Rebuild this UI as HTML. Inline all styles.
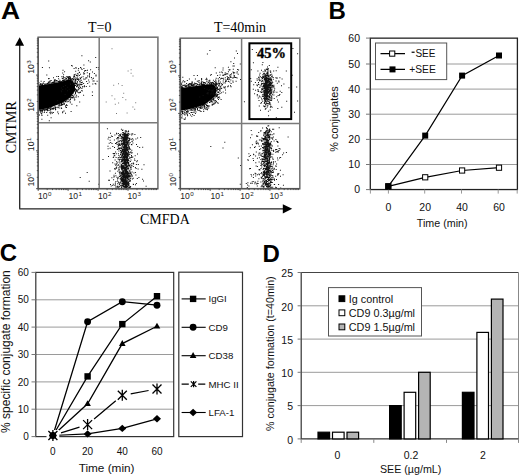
<!DOCTYPE html>
<html><head><meta charset="utf-8"><style>
html,body{margin:0;padding:0;background:#fff;width:520px;height:476px;overflow:hidden}
svg{display:block}
</style></head><body>
<svg width="520" height="476" viewBox="0 0 520 476">
<rect width="520" height="476" fill="#fff"/>
<g id="A">
<text transform="translate(0.9 18.8) scale(1.1 1)" font-family='"Liberation Sans", sans-serif' font-weight="bold" font-size="24">A</text>
<path d="M19.7 208.7V44" stroke="#222" stroke-width="1.3" fill="none"/>
<path d="M15.1 45.8L19.7 37.2L24.1 45.8Z" fill="#000"/>
<path d="M19.2 208.8H284" stroke="#222" stroke-width="1.3" fill="none"/>
<path d="M282.8 204.2L292.2 208.8L282.8 213.4Z" fill="#000"/>
<text x="140" y="223.8" font-family='"Liberation Serif", serif' font-size="14">CMFDA</text>
<text transform="translate(16.4 127.3) rotate(-90)" text-anchor="middle" font-family='"Liberation Serif", serif' font-size="14">CMTMR</text>
<text x="99.7" y="32.3" text-anchor="middle" font-family='"Liberation Serif", serif' font-size="14">T=0</text>
<text x="240" y="32.3" text-anchor="middle" font-family='"Liberation Serif", serif' font-size="14">T=40min</text>
<clipPath id="ul0"><rect x="38.2" y="37.2" width="61.0" height="85.6"/></clipPath>
<clipPath id="pl0"><rect x="38.2" y="37.2" width="119.7" height="151.5"/></clipPath>
<g clip-path="url(#ul0)"><polygon points="38.2,85.4 49.0,84.0 62.0,81.5 68.5,79.5 72.5,80.5 75.0,85.0 75.0,91.0 70.0,97.8 62.0,103.0 49.0,108.0 38.2,110.0 36.0,110.0 36.0,85.4" fill="#000"/>
<path d="M54.8 80.5h1v1h-1zM63.7 103.9h1v1h-1zM49.9 111.4h1v1h-1zM48.6 78.1h1v1h-1zM61.0 102.9h1v1h-1zM63.5 77.0h1v1h-1zM56.5 106.8h1v1h-1zM75.0 91.3h1v1h-1zM41.7 83.7h1v1h-1zM68.2 77.7h1v1h-1zM46.7 108.4h1v1h-1zM43.1 109.6h1v1h-1zM63.6 77.2h1v1h-1zM59.9 80.8h1v1h-1zM49.6 109.5h1v1h-1zM42.0 109.4h1v1h-1zM52.5 108.9h1v1h-1zM68.6 77.7h1v1h-1zM54.7 79.8h1v1h-1zM50.1 109.0h1v1h-1zM71.4 95.0h1v1h-1zM51.8 82.6h1v1h-1zM71.4 103.8h1v1h-1zM51.8 112.8h1v1h-1zM39.1 109.7h1v1h-1zM58.5 104.8h1v1h-1zM54.4 82.3h1v1h-1zM75.6 96.3h1v1h-1zM52.9 111.9h1v1h-1zM65.2 78.8h1v1h-1zM44.0 109.2h1v1h-1zM78.8 88.3h1v1h-1zM71.4 79.2h1v1h-1zM52.6 82.2h1v1h-1zM48.1 82.6h1v1h-1zM76.0 78.6h1v1h-1zM54.5 79.1h1v1h-1zM49.1 81.5h1v1h-1zM59.3 79.8h1v1h-1zM64.7 101.3h1v1h-1zM54.5 106.6h1v1h-1zM74.0 97.5h1v1h-1zM42.0 110.0h1v1h-1zM46.5 108.8h1v1h-1zM72.0 97.1h1v1h-1zM49.5 112.0h1v1h-1zM80.8 83.9h1v1h-1zM70.6 111.0h1v1h-1zM68.7 76.2h1v1h-1zM39.2 109.3h1v1h-1zM42.0 83.5h1v1h-1zM39.2 109.8h1v1h-1zM74.7 88.1h1v1h-1zM55.2 108.8h1v1h-1zM63.8 103.1h1v1h-1zM50.6 117.3h1v1h-1zM52.0 108.1h1v1h-1zM62.2 72.5h1v1h-1zM59.4 103.7h1v1h-1zM54.2 106.5h1v1h-1zM77.9 86.7h1v1h-1zM62.8 77.8h1v1h-1zM75.1 91.4h1v1h-1zM41.6 114.7h1v1h-1zM55.0 109.2h1v1h-1zM59.3 81.1h1v1h-1zM69.7 79.2h1v1h-1zM38.3 81.9h1v1h-1zM74.5 83.8h1v1h-1zM41.5 109.1h1v1h-1zM43.1 82.7h1v1h-1zM44.2 109.2h1v1h-1zM83.2 78.5h1v1h-1zM83.1 82.9h1v1h-1zM41.4 111.2h1v1h-1zM76.2 89.8h1v1h-1zM41.4 118.8h1v1h-1zM46.9 83.3h1v1h-1zM57.7 107.2h1v1h-1zM77.7 73.4h1v1h-1zM73.8 74.1h1v1h-1zM75.3 80.1h1v1h-1zM44.5 108.4h1v1h-1zM41.9 84.1h1v1h-1zM53.0 77.2h1v1h-1zM49.4 112.2h1v1h-1zM79.6 82.4h1v1h-1zM61.2 103.0h1v1h-1zM66.0 107.0h1v1h-1zM42.9 109.1h1v1h-1zM68.1 78.4h1v1h-1zM61.9 80.3h1v1h-1zM40.4 112.6h1v1h-1zM76.3 105.2h1v1h-1zM72.1 95.2h1v1h-1zM59.2 104.2h1v1h-1zM63.6 78.9h1v1h-1zM69.6 100.7h1v1h-1zM76.3 90.2h1v1h-1zM65.1 77.6h1v1h-1zM57.2 80.6h1v1h-1zM77.6 78.4h1v1h-1zM49.0 81.6h1v1h-1zM61.5 104.0h1v1h-1zM55.8 81.5h1v1h-1zM42.8 82.6h1v1h-1zM39.7 110.5h1v1h-1zM46.8 109.3h1v1h-1zM50.2 82.4h1v1h-1zM67.6 78.9h1v1h-1zM54.6 82.2h1v1h-1zM41.7 83.6h1v1h-1zM74.6 78.6h1v1h-1zM47.2 109.3h1v1h-1zM65.1 106.5h1v1h-1zM40.6 110.1h1v1h-1zM48.1 78.0h1v1h-1zM79.3 85.7h1v1h-1zM66.0 104.3h1v1h-1zM54.8 107.5h1v1h-1zM40.4 110.2h1v1h-1zM40.2 82.9h1v1h-1zM72.4 97.4h1v1h-1zM56.0 80.1h1v1h-1zM53.6 81.1h1v1h-1zM76.0 86.3h1v1h-1zM65.1 105.2h1v1h-1zM62.1 112.3h1v1h-1zM64.3 79.8h1v1h-1zM62.3 111.3h1v1h-1zM41.7 110.2h1v1h-1zM81.7 90.4h1v1h-1zM72.7 79.1h1v1h-1zM73.3 95.4h1v1h-1zM42.0 111.6h1v1h-1zM50.2 113.2h1v1h-1zM44.0 110.4h1v1h-1zM51.3 106.4h1v1h-1zM51.5 107.9h1v1h-1zM39.7 109.6h1v1h-1zM55.2 107.1h1v1h-1zM44.8 108.7h1v1h-1zM68.7 78.1h1v1h-1zM46.2 108.2h1v1h-1zM39.3 84.2h1v1h-1zM61.3 76.3h1v1h-1zM69.9 79.0h1v1h-1zM49.8 109.4h1v1h-1zM66.0 77.9h1v1h-1zM44.4 84.0h1v1h-1zM40.2 109.4h1v1h-1zM39.5 109.6h1v1h-1zM49.4 80.5h1v1h-1zM60.9 81.1h1v1h-1zM75.0 85.0h1v1h-1zM70.9 78.7h1v1h-1zM47.5 83.0h1v1h-1zM67.6 76.4h1v1h-1zM70.6 96.7h1v1h-1zM73.2 79.6h1v1h-1zM48.6 107.9h1v1h-1zM42.8 108.8h1v1h-1zM75.1 83.0h1v1h-1zM52.7 82.5h1v1h-1zM60.4 104.9h1v1h-1zM75.5 89.5h1v1h-1zM76.0 83.4h1v1h-1zM49.8 107.1h1v1h-1zM75.7 83.0h1v1h-1zM65.7 101.2h1v1h-1zM69.9 76.9h1v1h-1zM41.2 83.8h1v1h-1zM63.4 103.2h1v1h-1zM75.0 93.0h1v1h-1zM49.7 108.2h1v1h-1zM70.1 97.7h1v1h-1zM54.6 106.8h1v1h-1zM77.1 75.2h1v1h-1zM53.0 107.5h1v1h-1zM76.4 90.7h1v1h-1zM78.2 78.5h1v1h-1zM78.1 87.2h1v1h-1zM76.6 90.3h1v1h-1zM57.9 80.9h1v1h-1zM68.7 76.1h1v1h-1zM67.2 101.2h1v1h-1zM47.6 107.7h1v1h-1zM61.8 78.0h1v1h-1zM76.3 85.5h1v1h-1zM70.8 96.5h1v1h-1zM64.1 71.3h1v1h-1zM45.9 109.0h1v1h-1zM63.5 80.0h1v1h-1zM75.5 96.7h1v1h-1zM39.7 111.5h1v1h-1zM67.3 76.1h1v1h-1zM75.2 70.8h1v1h-1zM66.2 104.7h1v1h-1zM74.6 80.2h1v1h-1zM78.1 92.2h1v1h-1zM60.9 103.9h1v1h-1zM79.2 101.6h1v1h-1zM39.0 114.5h1v1h-1zM77.8 88.7h1v1h-1zM75.4 90.0h1v1h-1zM56.9 80.4h1v1h-1zM72.8 96.4h1v1h-1zM46.4 109.8h1v1h-1zM47.0 110.3h1v1h-1zM55.0 106.9h1v1h-1zM77.1 91.6h1v1h-1zM73.9 82.9h1v1h-1zM47.1 107.9h1v1h-1zM62.8 76.0h1v1h-1zM58.3 81.1h1v1h-1zM53.5 107.9h1v1h-1zM53.6 82.3h1v1h-1zM57.8 104.6h1v1h-1zM72.8 78.9h1v1h-1zM77.2 85.5h1v1h-1zM62.7 77.6h1v1h-1zM76.2 82.8h1v1h-1zM78.9 74.9h1v1h-1zM74.7 89.1h1v1h-1zM40.0 109.3h1v1h-1zM61.4 104.7h1v1h-1zM48.8 120.3h1v1h-1zM51.6 82.5h1v1h-1zM64.7 100.4h1v1h-1zM63.5 110.5h1v1h-1zM74.0 82.7h1v1h-1zM58.4 81.4h1v1h-1zM62.5 102.3h1v1h-1zM80.9 82.0h1v1h-1zM76.9 79.1h1v1h-1zM47.9 81.6h1v1h-1zM74.8 82.1h1v1h-1zM69.5 78.1h1v1h-1zM76.3 86.3h1v1h-1zM65.0 112.8h1v1h-1zM51.1 82.7h1v1h-1zM76.6 75.2h1v1h-1zM66.1 79.6h1v1h-1zM75.3 91.3h1v1h-1zM74.4 94.3h1v1h-1zM53.8 79.8h1v1h-1zM70.3 77.9h1v1h-1zM46.7 108.7h1v1h-1zM40.7 83.7h1v1h-1zM74.6 80.8h1v1h-1zM79.6 81.3h1v1h-1zM43.6 81.1h1v1h-1zM46.2 112.1h1v1h-1zM46.6 83.1h1v1h-1zM78.9 92.2h1v1h-1zM61.1 108.0h1v1h-1zM69.1 99.6h1v1h-1zM62.3 79.8h1v1h-1zM71.8 94.9h1v1h-1zM52.5 81.7h1v1h-1zM49.9 107.4h1v1h-1zM68.4 77.6h1v1h-1zM72.5 93.3h1v1h-1zM62.2 80.7h1v1h-1zM48.9 67.3h1v1h-1zM63.4 101.4h1v1h-1zM47.2 114.7h1v1h-1zM57.1 111.5h1v1h-1zM44.3 84.0h1v1h-1zM65.9 76.2h1v1h-1zM74.2 83.7h1v1h-1zM51.3 106.8h1v1h-1zM58.0 75.9h1v1h-1zM66.1 99.8h1v1h-1zM54.0 80.7h1v1h-1zM57.8 106.4h1v1h-1zM54.9 108.6h1v1h-1zM59.3 107.6h1v1h-1zM68.5 76.9h1v1h-1zM41.0 114.5h1v1h-1zM58.7 81.4h1v1h-1zM73.1 76.3h1v1h-1zM44.5 110.0h1v1h-1zM62.5 69.7h1v1h-1zM73.4 78.4h1v1h-1zM51.1 108.5h1v1h-1zM45.7 108.9h1v1h-1zM67.6 99.1h1v1h-1zM53.6 81.3h1v1h-1zM65.0 101.1h1v1h-1zM45.7 83.7h1v1h-1zM54.7 106.3h1v1h-1zM73.5 77.2h1v1h-1zM69.0 78.1h1v1h-1zM50.1 109.6h1v1h-1zM69.6 76.3h1v1h-1zM40.1 83.9h1v1h-1zM73.4 81.5h1v1h-1zM84.5 78.8h1v1h-1zM75.6 89.1h1v1h-1zM48.2 78.3h1v1h-1zM78.9 84.4h1v1h-1zM75.4 91.3h1v1h-1zM57.3 111.4h1v1h-1zM62.8 79.9h1v1h-1zM75.0 79.0h1v1h-1zM50.7 80.0h1v1h-1zM66.6 104.9h1v1h-1zM73.9 99.4h1v1h-1zM47.4 82.8h1v1h-1zM50.0 80.5h1v1h-1zM59.2 105.5h1v1h-1zM41.2 112.9h1v1h-1zM75.0 92.6h1v1h-1zM39.5 109.8h1v1h-1zM40.6 80.7h1v1h-1zM47.0 83.5h1v1h-1zM70.8 78.5h1v1h-1zM71.2 97.2h1v1h-1zM67.8 77.6h1v1h-1zM80.1 87.0h1v1h-1zM38.4 82.4h1v1h-1zM67.9 100.7h1v1h-1zM52.6 108.2h1v1h-1zM47.3 109.0h1v1h-1zM44.6 108.3h1v1h-1zM48.1 82.3h1v1h-1zM77.1 84.7h1v1h-1zM74.7 82.6h1v1h-1zM40.9 109.7h1v1h-1zM57.9 113.3h1v1h-1zM66.4 99.4h1v1h-1zM44.7 83.6h1v1h-1zM68.4 78.8h1v1h-1zM62.3 103.9h1v1h-1zM76.1 94.8h1v1h-1zM61.0 107.6h1v1h-1zM77.8 96.2h1v1h-1zM43.8 112.1h1v1h-1zM75.3 73.8h1v1h-1zM69.5 97.3h1v1h-1zM48.8 82.7h1v1h-1zM69.8 102.3h1v1h-1zM79.8 91.6h1v1h-1zM51.3 111.8h1v1h-1zM44.3 83.6h1v1h-1zM68.8 78.4h1v1h-1zM58.1 78.3h1v1h-1zM70.0 98.9h1v1h-1zM48.4 109.9h1v1h-1zM72.6 97.0h1v1h-1zM67.2 76.9h1v1h-1zM51.6 81.9h1v1h-1zM65.0 85.1h1v1h-1zM70.8 80.5h1v1h-1zM72.8 84.7h1v1h-1zM76.8 81.0h1v1h-1zM83.9 86.2h1v1h-1zM97.8 66.9h1v1h-1zM78.3 79.2h1v1h-1zM90.9 77.1h1v1h-1zM80.1 78.0h1v1h-1zM88.7 81.4h1v1h-1zM77.4 84.5h1v1h-1zM60.9 87.4h1v1h-1zM78.1 68.1h1v1h-1zM67.0 90.3h1v1h-1zM60.7 90.2h1v1h-1zM72.1 83.2h1v1h-1zM87.2 83.0h1v1h-1zM95.5 74.6h1v1h-1zM78.8 71.8h1v1h-1zM87.0 69.8h1v1h-1zM93.6 80.4h1v1h-1zM74.3 99.3h1v1h-1zM82.1 86.4h1v1h-1zM95.2 83.4h1v1h-1zM96.6 80.7h1v1h-1zM84.5 70.0h1v1h-1zM80.7 84.3h1v1h-1zM89.0 74.3h1v1h-1zM68.7 77.3h1v1h-1zM91.9 94.9h1v1h-1zM77.0 77.6h1v1h-1zM88.1 79.6h1v1h-1zM73.6 68.0h1v1h-1zM71.4 80.4h1v1h-1zM83.2 72.2h1v1h-1zM73.7 75.1h1v1h-1zM83.1 94.7h1v1h-1zM89.0 76.5h1v1h-1zM67.8 78.3h1v1h-1zM89.1 73.0h1v1h-1zM86.4 77.3h1v1h-1zM71.8 65.5h1v1h-1zM94.7 83.1h1v1h-1zM80.0 78.1h1v1h-1zM81.0 76.8h1v1h-1zM62.2 89.1h1v1h-1zM83.9 85.2h1v1h-1zM70.0 84.0h1v1h-1zM81.9 81.8h1v1h-1zM81.5 69.0h1v1h-1zM88.1 60.2h1v1h-1zM95.5 75.6h1v1h-1zM77.1 73.2h1v1h-1zM83.2 73.6h1v1h-1zM81.4 55.3h1v1h-1zM71.1 65.0h1v1h-1zM79.6 77.3h1v1h-1zM83.4 68.1h1v1h-1zM63.1 74.2h1v1h-1zM76.6 83.2h1v1h-1zM74.1 75.9h1v1h-1zM80.1 83.9h1v1h-1zM75.4 67.1h1v1h-1zM72.1 77.9h1v1h-1zM57.1 100.2h1v1h-1zM79.0 71.9h1v1h-1zM85.6 77.4h1v1h-1zM76.7 84.2h1v1h-1zM75.4 77.2h1v1h-1zM83.4 64.6h1v1h-1zM98.1 68.8h1v1h-1zM77.7 84.4h1v1h-1zM69.9 83.2h1v1h-1zM77.9 79.7h1v1h-1zM91.7 78.6h1v1h-1zM81.4 87.9h1v1h-1zM79.6 79.4h1v1h-1zM84.1 70.7h1v1h-1zM65.3 88.5h1v1h-1zM86.8 72.3h1v1h-1zM92.5 80.4h1v1h-1zM76.9 81.7h1v1h-1zM81.2 83.8h1v1h-1zM85.2 77.4h1v1h-1zM93.9 72.9h1v1h-1zM79.9 73.7h1v1h-1zM85.8 86.1h1v1h-1zM87.0 75.6h1v1h-1zM75.9 75.1h1v1h-1zM77.5 89.5h1v1h-1zM80.8 79.8h1v1h-1zM90.1 69.2h1v1h-1zM81.3 90.1h1v1h-1zM80.0 67.1h1v1h-1zM77.3 75.4h1v1h-1zM74.9 81.4h1v1h-1zM62.9 85.9h1v1h-1zM95.9 66.9h1v1h-1zM79.6 87.6h1v1h-1zM67.2 86.8h1v1h-1zM92.0 71.4h1v1h-1zM82.6 76.2h1v1h-1zM86.1 81.0h1v1h-1zM79.3 81.1h1v1h-1zM75.6 67.8h1v1h-1zM95.4 83.4h1v1h-1zM88.7 75.5h1v1h-1zM78.5 83.7h1v1h-1zM79.9 91.9h1v1h-1zM71.9 80.4h1v1h-1zM81.6 83.7h1v1h-1zM82.3 86.1h1v1h-1zM89.2 85.8h1v1h-1zM68.7 88.7h1v1h-1zM92.3 83.4h1v1h-1zM61.1 91.3h1v1h-1zM64.6 94.1h1v1h-1zM76.9 84.7h1v1h-1zM93.0 77.7h1v1h-1zM81.2 84.0h1v1h-1zM84.1 73.3h1v1h-1zM85.4 69.9h1v1h-1zM80.8 67.8h1v1h-1zM91.9 91.5h1v1h-1zM77.8 69.7h1v1h-1zM48.2 60.6h1v1h-1zM95.2 56.9h1v1h-1zM46.3 74.6h1v1h-1zM89.8 61.6h1v1h-1zM56.3 75.9h1v1h-1zM41.9 67.1h1v1h-1z" fill="#111"/></g>
<path d="M124.7 184.7h1v1h-1zM112.2 162.2h1v1h-1zM127.6 174.5h1v1h-1zM124.2 153.7h1v1h-1zM124.5 178.1h1v1h-1zM134.4 133.9h1v1h-1zM111.4 177.2h1v1h-1zM124.2 184.0h1v1h-1zM121.9 130.0h1v1h-1zM127.0 172.9h1v1h-1zM131.0 143.9h1v1h-1zM123.3 138.0h1v1h-1zM125.1 149.2h1v1h-1zM124.1 145.9h1v1h-1zM121.1 176.9h1v1h-1zM127.0 186.6h1v1h-1zM125.1 137.6h1v1h-1zM125.4 163.4h1v1h-1zM124.1 176.4h1v1h-1zM123.5 133.1h1v1h-1zM123.8 162.7h1v1h-1zM124.9 184.4h1v1h-1zM127.5 166.4h1v1h-1zM121.6 167.4h1v1h-1zM128.4 184.7h1v1h-1zM124.1 139.8h1v1h-1zM124.6 144.3h1v1h-1zM118.0 143.5h1v1h-1zM124.3 136.7h1v1h-1zM124.7 142.8h1v1h-1zM123.8 168.6h1v1h-1zM122.7 156.0h1v1h-1zM135.0 184.2h1v1h-1zM127.8 163.9h1v1h-1zM124.6 176.8h1v1h-1zM123.3 141.2h1v1h-1zM131.2 134.4h1v1h-1zM110.7 185.6h1v1h-1zM125.1 168.6h1v1h-1zM126.0 187.3h1v1h-1zM125.0 137.9h1v1h-1zM125.6 165.1h1v1h-1zM127.1 172.2h1v1h-1zM132.1 138.3h1v1h-1zM118.4 150.5h1v1h-1zM124.0 161.9h1v1h-1zM122.0 175.9h1v1h-1zM127.3 159.8h1v1h-1zM126.1 185.5h1v1h-1zM131.9 178.5h1v1h-1zM117.9 158.7h1v1h-1zM121.5 136.5h1v1h-1zM126.3 160.0h1v1h-1zM129.4 178.7h1v1h-1zM123.9 147.4h1v1h-1zM125.7 169.6h1v1h-1zM113.8 176.3h1v1h-1zM126.3 147.9h1v1h-1zM122.6 183.8h1v1h-1zM126.9 155.8h1v1h-1zM125.6 156.9h1v1h-1zM120.9 147.9h1v1h-1zM121.2 146.4h1v1h-1zM126.3 159.0h1v1h-1zM128.7 173.6h1v1h-1zM125.1 162.8h1v1h-1zM122.7 165.7h1v1h-1zM126.2 146.3h1v1h-1zM131.0 154.9h1v1h-1zM120.4 179.1h1v1h-1zM124.7 148.7h1v1h-1zM127.5 162.9h1v1h-1zM123.6 155.4h1v1h-1zM122.5 143.6h1v1h-1zM119.5 171.0h1v1h-1zM125.5 174.6h1v1h-1zM126.3 136.6h1v1h-1zM125.4 176.9h1v1h-1zM125.8 151.5h1v1h-1zM117.9 153.3h1v1h-1zM124.4 155.3h1v1h-1zM123.3 150.4h1v1h-1zM114.4 134.5h1v1h-1zM122.1 179.5h1v1h-1zM124.5 166.5h1v1h-1zM121.0 186.4h1v1h-1zM121.6 174.3h1v1h-1zM128.4 152.5h1v1h-1zM132.8 183.7h1v1h-1zM123.0 133.5h1v1h-1zM124.5 178.5h1v1h-1zM131.4 144.3h1v1h-1zM124.9 135.0h1v1h-1zM123.5 180.3h1v1h-1zM122.3 168.1h1v1h-1zM120.9 136.1h1v1h-1zM121.9 165.3h1v1h-1zM123.2 184.6h1v1h-1zM124.9 184.7h1v1h-1zM121.9 148.7h1v1h-1zM121.9 166.1h1v1h-1zM125.6 175.6h1v1h-1zM124.3 174.1h1v1h-1zM120.4 165.8h1v1h-1zM122.5 134.8h1v1h-1zM124.7 184.4h1v1h-1zM123.2 150.9h1v1h-1zM113.9 139.6h1v1h-1zM122.5 159.3h1v1h-1zM124.2 144.4h1v1h-1zM125.9 174.3h1v1h-1zM124.8 164.3h1v1h-1zM123.6 180.0h1v1h-1zM131.6 171.4h1v1h-1zM122.9 182.2h1v1h-1zM125.4 155.8h1v1h-1zM124.5 144.9h1v1h-1zM126.9 158.2h1v1h-1zM120.0 153.8h1v1h-1zM129.6 186.4h1v1h-1zM127.2 185.6h1v1h-1zM126.6 168.0h1v1h-1zM124.4 175.7h1v1h-1zM122.5 180.0h1v1h-1zM124.1 133.5h1v1h-1zM127.4 168.2h1v1h-1zM128.5 143.4h1v1h-1zM124.5 133.1h1v1h-1zM127.3 174.0h1v1h-1zM121.9 143.6h1v1h-1zM123.5 158.7h1v1h-1zM122.2 139.7h1v1h-1zM120.3 157.0h1v1h-1zM122.1 169.8h1v1h-1zM122.4 135.2h1v1h-1zM130.8 173.7h1v1h-1zM126.1 167.4h1v1h-1zM136.2 161.2h1v1h-1zM121.1 150.6h1v1h-1zM125.4 159.3h1v1h-1zM125.2 155.8h1v1h-1zM132.4 142.5h1v1h-1zM125.8 136.6h1v1h-1zM124.2 159.6h1v1h-1zM122.5 178.7h1v1h-1zM125.7 152.6h1v1h-1zM128.1 184.6h1v1h-1zM126.7 138.7h1v1h-1zM126.0 167.6h1v1h-1zM123.6 142.2h1v1h-1zM117.3 161.8h1v1h-1zM125.1 133.8h1v1h-1zM115.1 151.4h1v1h-1zM128.8 148.3h1v1h-1zM122.9 140.5h1v1h-1zM123.7 169.0h1v1h-1zM125.4 186.1h1v1h-1zM122.0 172.2h1v1h-1zM113.1 179.2h1v1h-1zM121.5 147.3h1v1h-1zM127.0 142.8h1v1h-1zM127.5 153.7h1v1h-1zM123.3 142.7h1v1h-1zM122.6 155.9h1v1h-1zM109.0 179.7h1v1h-1zM121.9 149.8h1v1h-1zM127.1 156.9h1v1h-1zM126.5 153.3h1v1h-1zM138.4 177.1h1v1h-1zM122.6 166.4h1v1h-1zM126.8 142.1h1v1h-1zM132.3 133.6h1v1h-1zM137.6 168.5h1v1h-1zM126.6 166.6h1v1h-1zM123.0 146.5h1v1h-1zM123.2 172.6h1v1h-1zM124.7 154.8h1v1h-1zM114.8 183.7h1v1h-1zM124.9 180.4h1v1h-1zM114.9 172.8h1v1h-1zM122.5 160.4h1v1h-1zM123.9 138.0h1v1h-1zM126.4 167.1h1v1h-1zM125.9 182.1h1v1h-1zM124.2 144.9h1v1h-1zM112.3 184.9h1v1h-1zM125.7 174.2h1v1h-1zM123.9 160.0h1v1h-1zM122.1 134.1h1v1h-1zM131.0 155.6h1v1h-1zM123.0 174.7h1v1h-1zM126.3 180.1h1v1h-1zM121.6 164.6h1v1h-1zM124.2 144.9h1v1h-1zM107.5 145.8h1v1h-1zM132.3 156.4h1v1h-1zM133.1 163.4h1v1h-1zM123.6 147.5h1v1h-1zM122.1 140.5h1v1h-1zM125.8 153.5h1v1h-1zM124.3 136.8h1v1h-1zM130.6 156.9h1v1h-1zM124.5 151.5h1v1h-1zM114.2 168.1h1v1h-1zM125.7 148.6h1v1h-1zM127.0 135.7h1v1h-1zM127.9 167.9h1v1h-1zM124.1 161.5h1v1h-1zM124.1 136.3h1v1h-1zM128.2 145.9h1v1h-1zM126.1 165.9h1v1h-1zM114.3 155.2h1v1h-1zM124.9 152.8h1v1h-1zM124.8 138.6h1v1h-1zM125.2 156.8h1v1h-1zM123.9 154.8h1v1h-1zM142.1 178.8h1v1h-1zM123.5 153.9h1v1h-1zM119.2 165.8h1v1h-1zM125.8 135.4h1v1h-1zM123.5 159.4h1v1h-1zM123.9 142.8h1v1h-1zM125.4 137.5h1v1h-1zM121.3 161.5h1v1h-1zM117.6 145.8h1v1h-1zM127.6 164.0h1v1h-1zM121.4 148.4h1v1h-1zM126.7 165.7h1v1h-1zM123.6 168.2h1v1h-1zM128.2 174.8h1v1h-1zM128.2 152.5h1v1h-1zM125.6 178.5h1v1h-1zM125.1 142.0h1v1h-1zM119.3 148.4h1v1h-1zM123.2 163.3h1v1h-1zM125.6 165.0h1v1h-1zM120.0 181.4h1v1h-1zM112.7 152.9h1v1h-1zM125.1 151.2h1v1h-1zM123.6 154.3h1v1h-1zM122.4 185.4h1v1h-1zM127.0 137.8h1v1h-1zM130.9 152.5h1v1h-1zM115.4 175.2h1v1h-1zM123.3 186.3h1v1h-1zM122.8 161.9h1v1h-1zM127.5 183.1h1v1h-1zM129.1 175.3h1v1h-1zM125.2 167.0h1v1h-1zM137.8 164.0h1v1h-1zM127.2 133.9h1v1h-1zM126.6 146.5h1v1h-1zM114.5 168.8h1v1h-1zM123.2 156.3h1v1h-1zM118.9 183.8h1v1h-1zM124.1 148.3h1v1h-1zM114.9 182.6h1v1h-1zM126.6 168.8h1v1h-1zM122.7 162.5h1v1h-1zM126.8 153.7h1v1h-1zM127.4 152.8h1v1h-1zM124.6 159.1h1v1h-1zM126.0 181.9h1v1h-1zM125.8 166.1h1v1h-1zM122.3 184.6h1v1h-1zM125.0 183.6h1v1h-1zM122.5 138.5h1v1h-1zM125.8 184.3h1v1h-1zM120.9 152.0h1v1h-1zM118.3 144.8h1v1h-1zM123.8 175.5h1v1h-1zM124.6 153.0h1v1h-1zM115.8 153.3h1v1h-1zM125.2 156.3h1v1h-1zM124.1 181.3h1v1h-1zM123.3 155.4h1v1h-1zM118.3 168.6h1v1h-1zM125.6 148.1h1v1h-1zM130.3 172.5h1v1h-1zM125.2 159.6h1v1h-1zM125.9 169.8h1v1h-1zM129.0 171.6h1v1h-1zM116.9 149.0h1v1h-1zM123.1 140.4h1v1h-1zM124.1 145.1h1v1h-1zM125.7 137.5h1v1h-1zM123.1 178.9h1v1h-1zM125.4 164.1h1v1h-1zM124.6 153.5h1v1h-1zM126.7 160.4h1v1h-1zM124.0 179.7h1v1h-1zM119.4 162.3h1v1h-1zM125.8 172.8h1v1h-1zM124.8 170.7h1v1h-1zM127.3 175.8h1v1h-1zM124.4 158.2h1v1h-1zM126.6 176.2h1v1h-1zM124.7 161.2h1v1h-1zM124.7 172.5h1v1h-1zM126.7 157.3h1v1h-1zM126.3 182.3h1v1h-1zM132.8 139.6h1v1h-1zM127.0 141.3h1v1h-1zM120.4 159.1h1v1h-1zM120.8 163.7h1v1h-1zM123.5 146.6h1v1h-1zM126.3 166.5h1v1h-1zM121.0 169.2h1v1h-1zM123.0 158.9h1v1h-1zM113.5 153.2h1v1h-1zM126.6 181.6h1v1h-1zM128.3 172.9h1v1h-1zM123.1 131.9h1v1h-1zM127.7 153.8h1v1h-1zM127.7 142.2h1v1h-1zM128.8 170.2h1v1h-1zM119.2 184.2h1v1h-1zM116.1 167.8h1v1h-1zM126.0 152.7h1v1h-1zM111.8 135.9h1v1h-1zM124.3 177.3h1v1h-1zM121.4 153.5h1v1h-1zM117.9 136.9h1v1h-1zM108.1 179.7h1v1h-1zM125.3 151.0h1v1h-1zM120.5 151.4h1v1h-1zM127.0 177.4h1v1h-1zM137.1 137.6h1v1h-1zM122.1 180.9h1v1h-1zM123.5 175.3h1v1h-1zM109.6 147.7h1v1h-1zM126.4 143.8h1v1h-1zM119.7 147.8h1v1h-1zM125.8 174.9h1v1h-1zM117.0 180.4h1v1h-1zM122.1 143.6h1v1h-1zM126.3 135.2h1v1h-1zM126.2 137.0h1v1h-1zM124.9 160.8h1v1h-1zM121.5 160.2h1v1h-1zM124.2 159.1h1v1h-1zM122.9 178.5h1v1h-1zM122.7 163.2h1v1h-1zM126.7 180.9h1v1h-1zM118.2 164.2h1v1h-1zM129.5 164.2h1v1h-1zM109.6 139.8h1v1h-1zM120.2 135.5h1v1h-1zM130.8 166.6h1v1h-1zM124.6 148.9h1v1h-1zM121.2 164.9h1v1h-1zM129.3 133.8h1v1h-1zM123.9 162.8h1v1h-1zM127.7 164.4h1v1h-1zM125.9 183.8h1v1h-1zM126.5 161.8h1v1h-1zM123.0 159.1h1v1h-1zM121.5 181.5h1v1h-1zM126.5 175.3h1v1h-1zM122.5 183.0h1v1h-1zM127.4 160.0h1v1h-1zM124.9 152.9h1v1h-1zM125.9 163.3h1v1h-1zM126.6 148.4h1v1h-1zM118.5 167.1h1v1h-1zM128.5 149.2h1v1h-1zM124.0 145.3h1v1h-1zM125.7 145.5h1v1h-1zM135.4 174.4h1v1h-1zM117.5 164.8h1v1h-1zM124.0 183.7h1v1h-1zM129.7 187.0h1v1h-1zM124.2 172.4h1v1h-1zM127.1 159.7h1v1h-1zM121.6 172.7h1v1h-1zM134.1 158.5h1v1h-1zM125.6 163.8h1v1h-1zM128.1 133.1h1v1h-1zM123.2 149.9h1v1h-1zM106.9 128.3h1v1h-1zM123.3 157.1h1v1h-1zM116.4 176.7h1v1h-1zM121.7 158.0h1v1h-1zM125.1 149.7h1v1h-1zM120.0 147.4h1v1h-1zM131.5 133.3h1v1h-1zM124.5 140.7h1v1h-1zM126.8 150.3h1v1h-1zM124.2 172.8h1v1h-1zM123.4 150.7h1v1h-1zM125.7 170.3h1v1h-1zM124.3 163.9h1v1h-1zM123.4 168.0h1v1h-1zM124.2 139.0h1v1h-1zM119.1 159.2h1v1h-1zM121.3 178.9h1v1h-1zM123.9 136.6h1v1h-1zM123.2 143.4h1v1h-1zM123.2 149.7h1v1h-1zM134.9 167.0h1v1h-1zM125.1 167.0h1v1h-1zM114.5 163.5h1v1h-1zM119.2 144.2h1v1h-1zM125.8 171.4h1v1h-1zM123.6 167.2h1v1h-1zM114.6 159.5h1v1h-1zM128.9 186.8h1v1h-1zM129.2 157.3h1v1h-1zM122.6 176.0h1v1h-1zM130.0 166.5h1v1h-1zM123.9 182.2h1v1h-1zM126.1 177.1h1v1h-1zM123.4 182.9h1v1h-1zM122.7 184.4h1v1h-1zM128.1 151.3h1v1h-1zM127.3 155.6h1v1h-1zM126.7 173.9h1v1h-1zM125.8 154.1h1v1h-1zM125.5 149.9h1v1h-1zM128.1 182.5h1v1h-1zM118.3 147.5h1v1h-1zM128.6 175.4h1v1h-1zM119.2 143.9h1v1h-1zM127.1 154.6h1v1h-1zM125.1 138.2h1v1h-1zM124.8 130.8h1v1h-1zM124.7 151.5h1v1h-1zM123.2 180.8h1v1h-1zM124.6 170.1h1v1h-1zM124.5 173.1h1v1h-1zM122.5 186.4h1v1h-1zM127.8 154.4h1v1h-1zM112.3 146.0h1v1h-1zM129.1 165.1h1v1h-1zM124.9 146.8h1v1h-1zM121.1 142.8h1v1h-1zM126.4 171.1h1v1h-1zM128.3 167.6h1v1h-1zM122.3 150.9h1v1h-1zM125.4 135.1h1v1h-1zM128.0 140.1h1v1h-1zM125.7 165.0h1v1h-1zM124.5 187.3h1v1h-1zM126.6 137.8h1v1h-1zM126.7 171.4h1v1h-1zM113.1 156.5h1v1h-1zM125.1 137.3h1v1h-1zM123.8 157.9h1v1h-1zM127.5 182.5h1v1h-1zM123.7 159.3h1v1h-1zM125.3 176.0h1v1h-1zM125.0 177.5h1v1h-1zM119.2 173.2h1v1h-1zM123.2 184.8h1v1h-1zM129.6 173.0h1v1h-1zM124.5 169.7h1v1h-1zM119.0 144.2h1v1h-1zM124.2 169.7h1v1h-1zM125.2 137.4h1v1h-1zM127.6 154.7h1v1h-1zM126.7 137.3h1v1h-1zM129.4 173.5h1v1h-1zM121.0 173.0h1v1h-1zM113.3 176.6h1v1h-1zM121.4 183.0h1v1h-1zM123.0 151.9h1v1h-1zM128.0 172.6h1v1h-1zM124.1 173.3h1v1h-1zM122.7 179.8h1v1h-1zM120.4 143.4h1v1h-1zM128.2 163.0h1v1h-1zM122.4 129.6h1v1h-1zM127.3 141.0h1v1h-1zM122.4 180.0h1v1h-1zM128.2 184.0h1v1h-1zM123.7 139.8h1v1h-1zM126.1 175.8h1v1h-1zM124.9 184.8h1v1h-1zM124.7 154.7h1v1h-1zM122.8 153.2h1v1h-1zM121.0 159.6h1v1h-1zM123.5 154.9h1v1h-1zM125.1 146.1h1v1h-1zM125.8 140.4h1v1h-1zM124.9 186.0h1v1h-1zM122.8 149.0h1v1h-1zM124.0 139.6h1v1h-1zM123.3 180.3h1v1h-1zM121.4 180.5h1v1h-1zM124.8 133.0h1v1h-1zM124.5 168.1h1v1h-1zM123.5 138.9h1v1h-1zM126.5 142.9h1v1h-1zM128.5 179.6h1v1h-1zM128.0 168.6h1v1h-1zM126.6 142.0h1v1h-1zM127.4 158.8h1v1h-1zM123.3 174.1h1v1h-1zM123.1 171.8h1v1h-1zM124.5 161.9h1v1h-1zM124.0 178.4h1v1h-1zM122.5 138.4h1v1h-1zM131.3 162.9h1v1h-1zM124.3 176.5h1v1h-1zM128.5 185.5h1v1h-1zM124.0 186.5h1v1h-1zM126.4 175.2h1v1h-1zM129.6 152.1h1v1h-1zM121.7 154.7h1v1h-1zM120.0 154.3h1v1h-1zM127.3 165.0h1v1h-1zM126.8 154.8h1v1h-1zM126.1 141.5h1v1h-1zM128.1 131.3h1v1h-1zM125.4 130.3h1v1h-1zM136.8 178.0h1v1h-1zM120.4 178.7h1v1h-1zM123.4 182.1h1v1h-1zM122.9 178.0h1v1h-1zM123.5 153.0h1v1h-1zM124.0 140.2h1v1h-1zM126.3 138.6h1v1h-1zM123.8 141.0h1v1h-1zM122.6 143.4h1v1h-1zM129.3 153.8h1v1h-1zM120.0 134.6h1v1h-1zM125.3 180.7h1v1h-1zM126.0 185.1h1v1h-1zM128.3 181.1h1v1h-1zM127.2 143.5h1v1h-1zM117.2 183.2h1v1h-1zM120.7 161.0h1v1h-1zM123.8 155.6h1v1h-1zM131.4 175.7h1v1h-1zM117.7 141.1h1v1h-1zM123.7 162.9h1v1h-1zM125.6 145.1h1v1h-1zM126.5 153.6h1v1h-1zM122.9 180.2h1v1h-1zM125.0 136.2h1v1h-1zM127.7 139.7h1v1h-1zM125.2 136.0h1v1h-1zM123.7 149.7h1v1h-1zM120.8 176.8h1v1h-1zM129.3 153.7h1v1h-1zM117.6 139.4h1v1h-1zM124.6 154.7h1v1h-1zM122.5 142.4h1v1h-1zM124.9 172.5h1v1h-1zM124.8 157.2h1v1h-1zM124.2 135.3h1v1h-1zM122.3 152.2h1v1h-1zM131.5 164.7h1v1h-1zM122.6 184.9h1v1h-1zM124.6 173.2h1v1h-1zM125.4 145.3h1v1h-1zM126.5 136.5h1v1h-1zM135.9 183.0h1v1h-1zM128.5 160.6h1v1h-1zM127.2 185.8h1v1h-1zM122.8 146.4h1v1h-1zM124.3 146.0h1v1h-1zM124.8 153.0h1v1h-1zM127.4 178.2h1v1h-1zM125.3 154.5h1v1h-1zM126.2 139.7h1v1h-1zM120.7 185.2h1v1h-1zM121.6 143.6h1v1h-1zM121.1 165.4h1v1h-1zM122.3 181.2h1v1h-1zM121.9 178.0h1v1h-1zM124.6 132.7h1v1h-1zM127.4 170.7h1v1h-1zM124.7 141.0h1v1h-1zM128.4 147.3h1v1h-1zM125.5 174.4h1v1h-1zM125.0 139.0h1v1h-1zM123.3 179.2h1v1h-1zM128.2 162.0h1v1h-1zM122.8 142.6h1v1h-1zM135.9 164.1h1v1h-1zM123.0 171.3h1v1h-1zM122.2 167.9h1v1h-1zM128.9 176.4h1v1h-1zM125.7 150.3h1v1h-1zM124.8 156.6h1v1h-1zM122.1 137.0h1v1h-1zM125.3 134.0h1v1h-1zM123.3 139.5h1v1h-1zM118.8 175.7h1v1h-1zM126.2 179.6h1v1h-1zM122.8 171.7h1v1h-1zM120.9 151.0h1v1h-1zM127.4 184.7h1v1h-1zM126.4 186.4h1v1h-1zM127.1 170.7h1v1h-1zM118.2 148.6h1v1h-1zM122.1 143.6h1v1h-1zM121.3 155.1h1v1h-1zM125.3 151.2h1v1h-1zM127.3 183.6h1v1h-1zM125.7 151.3h1v1h-1zM121.9 171.5h1v1h-1zM123.9 134.6h1v1h-1zM118.3 186.9h1v1h-1zM127.5 173.9h1v1h-1zM126.2 158.1h1v1h-1zM121.1 144.2h1v1h-1zM125.9 164.0h1v1h-1zM124.6 140.7h1v1h-1zM126.1 137.7h1v1h-1zM124.6 178.6h1v1h-1zM128.8 140.2h1v1h-1zM124.0 136.1h1v1h-1zM110.9 135.6h1v1h-1zM126.2 183.9h1v1h-1zM123.9 137.5h1v1h-1zM124.7 143.6h1v1h-1zM110.0 132.7h1v1h-1zM125.3 173.3h1v1h-1zM127.5 134.5h1v1h-1zM124.0 162.6h1v1h-1zM125.9 141.2h1v1h-1zM117.3 170.8h1v1h-1zM124.3 185.7h1v1h-1zM125.8 134.1h1v1h-1zM127.6 183.4h1v1h-1zM125.7 172.8h1v1h-1zM128.9 164.8h1v1h-1zM123.4 150.4h1v1h-1zM126.0 158.9h1v1h-1zM121.7 160.7h1v1h-1zM121.0 168.0h1v1h-1zM130.9 138.8h1v1h-1zM120.0 149.9h1v1h-1zM124.3 149.2h1v1h-1zM121.0 166.4h1v1h-1zM129.9 161.0h1v1h-1zM119.8 135.0h1v1h-1zM124.9 181.6h1v1h-1zM127.4 176.8h1v1h-1zM122.3 142.8h1v1h-1zM128.8 165.4h1v1h-1zM108.7 142.7h1v1h-1zM122.1 182.8h1v1h-1zM122.1 185.1h1v1h-1zM125.9 138.6h1v1h-1zM127.6 172.7h1v1h-1zM119.2 140.5h1v1h-1zM118.4 134.9h1v1h-1zM122.8 156.4h1v1h-1zM123.4 150.7h1v1h-1zM121.4 137.5h1v1h-1zM128.5 157.9h1v1h-1zM131.7 140.7h1v1h-1zM118.0 145.3h1v1h-1zM124.0 172.6h1v1h-1zM122.6 170.7h1v1h-1zM132.8 162.5h1v1h-1zM124.3 146.9h1v1h-1zM129.6 169.4h1v1h-1zM120.8 178.4h1v1h-1zM123.7 145.5h1v1h-1zM123.7 149.1h1v1h-1zM123.9 168.2h1v1h-1zM124.7 130.6h1v1h-1zM125.9 138.7h1v1h-1zM116.2 142.7h1v1h-1zM129.9 171.5h1v1h-1zM128.0 130.4h1v1h-1zM123.1 143.9h1v1h-1zM124.4 170.6h1v1h-1zM127.8 159.1h1v1h-1zM123.9 143.8h1v1h-1zM123.5 141.4h1v1h-1zM126.3 145.6h1v1h-1zM118.4 154.9h1v1h-1zM125.6 162.6h1v1h-1zM126.1 171.9h1v1h-1zM125.2 183.2h1v1h-1zM124.4 138.0h1v1h-1zM125.1 151.8h1v1h-1zM121.6 157.2h1v1h-1zM129.8 175.7h1v1h-1zM125.4 186.4h1v1h-1zM127.8 175.6h1v1h-1zM122.7 152.3h1v1h-1zM124.7 145.6h1v1h-1zM125.0 167.4h1v1h-1zM129.6 142.1h1v1h-1zM125.8 141.7h1v1h-1zM121.7 143.2h1v1h-1zM126.3 139.5h1v1h-1zM125.5 160.2h1v1h-1zM124.5 161.7h1v1h-1zM126.3 174.9h1v1h-1zM123.5 167.9h1v1h-1zM126.1 170.7h1v1h-1zM124.1 148.2h1v1h-1zM143.5 164.3h1v1h-1zM123.0 172.0h1v1h-1zM130.0 180.5h1v1h-1zM125.1 135.8h1v1h-1zM125.8 139.8h1v1h-1zM125.0 179.2h1v1h-1zM122.0 154.7h1v1h-1zM125.5 137.3h1v1h-1zM133.4 172.4h1v1h-1zM123.5 137.3h1v1h-1zM125.9 146.4h1v1h-1zM129.0 146.5h1v1h-1zM124.7 151.8h1v1h-1zM121.6 174.7h1v1h-1zM124.2 157.4h1v1h-1zM128.4 140.3h1v1h-1zM125.2 154.0h1v1h-1zM127.4 175.5h1v1h-1zM117.1 178.5h1v1h-1zM123.5 172.9h1v1h-1zM126.5 149.3h1v1h-1zM126.0 177.0h1v1h-1zM125.0 153.6h1v1h-1zM124.7 183.6h1v1h-1zM124.8 167.6h1v1h-1zM120.5 177.7h1v1h-1zM134.4 159.9h1v1h-1zM123.9 149.6h1v1h-1zM126.1 142.8h1v1h-1zM119.6 157.4h1v1h-1zM121.7 177.5h1v1h-1zM124.6 151.4h1v1h-1zM119.5 182.6h1v1h-1zM124.6 140.2h1v1h-1zM131.3 149.8h1v1h-1zM123.7 150.2h1v1h-1zM123.5 164.8h1v1h-1zM126.7 161.8h1v1h-1zM125.8 149.4h1v1h-1zM129.2 137.7h1v1h-1zM119.9 172.4h1v1h-1zM135.4 138.6h1v1h-1zM124.1 178.4h1v1h-1zM124.4 180.1h1v1h-1zM116.6 186.5h1v1h-1zM130.3 172.8h1v1h-1zM124.6 180.0h1v1h-1zM122.7 137.6h1v1h-1zM123.2 178.5h1v1h-1zM125.2 187.4h1v1h-1zM120.9 187.3h1v1h-1zM125.5 137.1h1v1h-1zM124.8 178.1h1v1h-1zM124.0 181.2h1v1h-1zM116.0 132.7h1v1h-1zM141.4 168.7h1v1h-1zM122.1 175.4h1v1h-1zM119.3 144.7h1v1h-1zM128.9 138.4h1v1h-1zM122.4 144.5h1v1h-1zM122.5 163.0h1v1h-1zM115.4 180.9h1v1h-1zM125.9 182.0h1v1h-1zM122.4 178.5h1v1h-1zM110.0 184.0h1v1h-1zM123.5 169.4h1v1h-1zM125.4 139.7h1v1h-1zM125.2 180.9h1v1h-1zM117.8 177.3h1v1h-1zM127.6 176.1h1v1h-1zM125.0 149.1h1v1h-1zM122.2 171.4h1v1h-1zM127.8 155.2h1v1h-1zM124.9 132.3h1v1h-1zM125.2 177.4h1v1h-1zM129.9 148.7h1v1h-1zM133.1 162.9h1v1h-1zM123.6 162.7h1v1h-1zM124.6 167.7h1v1h-1zM110.2 141.9h1v1h-1zM124.8 139.2h1v1h-1zM121.9 136.5h1v1h-1zM120.9 180.0h1v1h-1zM125.9 134.6h1v1h-1zM109.5 170.6h1v1h-1zM143.0 180.6h1v1h-1zM120.9 128.7h1v1h-1zM123.7 160.7h1v1h-1zM125.0 169.0h1v1h-1zM107.6 138.4h1v1h-1zM126.6 161.9h1v1h-1zM126.5 180.2h1v1h-1zM122.0 166.3h1v1h-1zM125.7 163.8h1v1h-1zM126.6 147.2h1v1h-1zM122.7 181.6h1v1h-1zM127.4 152.8h1v1h-1zM124.2 154.7h1v1h-1zM126.7 152.4h1v1h-1zM137.2 146.0h1v1h-1zM120.3 139.9h1v1h-1zM124.7 178.5h1v1h-1zM119.2 147.9h1v1h-1zM123.9 182.6h1v1h-1zM126.4 168.2h1v1h-1zM133.0 183.9h1v1h-1zM125.0 183.9h1v1h-1zM124.8 155.9h1v1h-1zM126.1 172.7h1v1h-1zM117.8 156.9h1v1h-1zM125.0 137.4h1v1h-1zM140.2 136.9h1v1h-1zM126.7 162.3h1v1h-1zM122.8 144.3h1v1h-1zM125.9 145.6h1v1h-1zM122.8 141.8h1v1h-1zM124.6 181.6h1v1h-1zM123.4 153.2h1v1h-1zM120.8 167.8h1v1h-1zM122.9 136.5h1v1h-1zM122.4 129.5h1v1h-1zM122.7 172.5h1v1h-1zM123.4 146.5h1v1h-1zM124.5 133.9h1v1h-1zM119.6 178.2h1v1h-1zM122.0 155.0h1v1h-1zM113.7 154.7h1v1h-1zM124.0 145.8h1v1h-1zM122.8 156.9h1v1h-1zM124.1 138.2h1v1h-1zM118.5 169.7h1v1h-1zM131.2 174.6h1v1h-1zM124.3 163.8h1v1h-1zM123.1 158.8h1v1h-1zM126.4 137.7h1v1h-1zM124.4 186.2h1v1h-1zM126.7 162.5h1v1h-1zM123.7 169.4h1v1h-1zM126.0 146.0h1v1h-1zM122.0 178.4h1v1h-1zM128.2 141.4h1v1h-1zM128.3 167.6h1v1h-1zM124.8 187.1h1v1h-1zM127.6 135.5h1v1h-1zM127.6 150.8h1v1h-1zM119.5 147.5h1v1h-1zM115.2 186.5h1v1h-1zM124.7 170.2h1v1h-1zM117.0 137.1h1v1h-1zM126.0 144.6h1v1h-1zM122.6 140.4h1v1h-1zM121.8 167.2h1v1h-1zM119.4 162.6h1v1h-1zM126.7 155.0h1v1h-1zM129.5 175.1h1v1h-1zM125.3 161.9h1v1h-1zM125.8 130.6h1v1h-1zM125.7 147.4h1v1h-1zM127.9 154.1h1v1h-1zM127.3 143.6h1v1h-1zM126.6 145.0h1v1h-1zM125.8 148.2h1v1h-1zM127.4 134.3h1v1h-1zM121.3 140.4h1v1h-1zM125.3 158.9h1v1h-1zM125.2 141.9h1v1h-1zM123.5 159.1h1v1h-1zM124.6 169.7h1v1h-1zM116.1 141.9h1v1h-1zM121.7 172.7h1v1h-1zM139.2 147.1h1v1h-1zM125.6 172.5h1v1h-1zM124.2 145.3h1v1h-1zM126.7 178.1h1v1h-1zM131.5 156.7h1v1h-1zM126.7 171.6h1v1h-1zM114.5 185.0h1v1h-1zM126.0 164.6h1v1h-1zM113.5 174.8h1v1h-1zM120.2 175.3h1v1h-1zM126.1 162.5h1v1h-1zM122.8 172.9h1v1h-1zM125.7 147.6h1v1h-1zM128.9 139.7h1v1h-1zM122.0 159.8h1v1h-1zM125.0 182.7h1v1h-1zM128.8 165.7h1v1h-1zM125.8 135.4h1v1h-1zM124.0 134.1h1v1h-1zM121.9 153.9h1v1h-1zM124.9 185.4h1v1h-1zM125.3 186.5h1v1h-1zM126.0 152.1h1v1h-1zM131.5 141.1h1v1h-1zM124.6 151.4h1v1h-1zM124.2 161.5h1v1h-1zM114.9 168.5h1v1h-1zM123.4 186.1h1v1h-1zM127.6 172.1h1v1h-1zM118.6 135.8h1v1h-1zM122.9 167.6h1v1h-1zM121.3 173.4h1v1h-1zM98.2 183.7h1v1h-1zM112.8 183.8h1v1h-1zM124.2 137.7h1v1h-1zM124.2 150.4h1v1h-1zM126.4 147.6h1v1h-1zM127.5 143.9h1v1h-1zM128.2 182.5h1v1h-1zM119.6 137.8h1v1h-1zM123.0 152.9h1v1h-1zM125.4 177.6h1v1h-1zM124.8 181.3h1v1h-1zM128.2 152.1h1v1h-1zM119.2 156.5h1v1h-1zM127.7 137.7h1v1h-1zM121.4 173.6h1v1h-1zM124.8 169.9h1v1h-1zM126.6 137.3h1v1h-1zM123.8 175.1h1v1h-1zM123.5 168.7h1v1h-1zM125.9 164.5h1v1h-1zM130.7 168.7h1v1h-1zM121.9 184.9h1v1h-1zM121.4 150.3h1v1h-1zM127.6 172.5h1v1h-1zM128.2 162.7h1v1h-1zM119.2 141.3h1v1h-1zM123.1 156.0h1v1h-1zM120.4 179.4h1v1h-1zM125.3 184.7h1v1h-1zM126.9 161.8h1v1h-1zM117.9 181.5h1v1h-1zM135.6 168.0h1v1h-1zM123.7 157.8h1v1h-1zM128.1 134.4h1v1h-1zM115.2 164.8h1v1h-1zM121.2 181.2h1v1h-1zM121.0 167.8h1v1h-1zM125.4 162.9h1v1h-1zM122.4 179.8h1v1h-1zM124.2 160.6h1v1h-1zM118.8 186.1h1v1h-1zM130.1 186.1h1v1h-1zM123.9 176.6h1v1h-1zM126.4 152.6h1v1h-1zM118.7 168.7h1v1h-1zM126.4 185.8h1v1h-1zM121.8 168.6h1v1h-1zM116.7 143.9h1v1h-1zM126.1 139.8h1v1h-1zM124.6 145.0h1v1h-1zM127.3 179.5h1v1h-1zM123.9 156.1h1v1h-1zM125.5 144.0h1v1h-1zM122.4 160.8h1v1h-1zM125.5 145.2h1v1h-1zM124.7 162.8h1v1h-1zM127.9 151.0h1v1h-1zM125.1 163.2h1v1h-1zM122.9 186.6h1v1h-1zM130.5 159.4h1v1h-1zM127.4 184.1h1v1h-1zM121.2 156.1h1v1h-1zM121.3 179.6h1v1h-1zM124.3 186.9h1v1h-1zM125.8 161.6h1v1h-1zM129.5 138.7h1v1h-1zM116.3 133.6h1v1h-1zM117.4 177.8h1v1h-1zM126.4 176.4h1v1h-1zM117.8 147.4h1v1h-1zM128.1 160.1h1v1h-1zM126.7 175.7h1v1h-1zM126.8 134.1h1v1h-1zM123.6 137.6h1v1h-1zM124.9 146.5h1v1h-1zM127.5 161.8h1v1h-1zM128.9 187.3h1v1h-1zM107.6 148.2h1v1h-1zM122.4 168.1h1v1h-1zM126.8 149.7h1v1h-1zM125.8 176.3h1v1h-1zM126.2 137.6h1v1h-1zM120.6 133.4h1v1h-1zM118.8 143.2h1v1h-1zM125.5 153.9h1v1h-1zM118.8 172.1h1v1h-1zM125.6 169.1h1v1h-1zM119.9 175.4h1v1h-1zM121.7 158.7h1v1h-1zM125.2 164.9h1v1h-1zM124.7 172.4h1v1h-1zM126.9 181.5h1v1h-1zM126.3 141.4h1v1h-1zM120.7 171.9h1v1h-1zM122.8 157.4h1v1h-1zM126.9 165.7h1v1h-1zM126.9 177.4h1v1h-1zM124.8 182.0h1v1h-1zM122.1 185.0h1v1h-1zM123.9 141.4h1v1h-1zM128.2 177.6h1v1h-1zM126.7 177.6h1v1h-1zM127.5 148.2h1v1h-1zM120.5 167.0h1v1h-1zM124.4 169.4h1v1h-1zM126.8 183.7h1v1h-1zM123.4 160.4h1v1h-1zM122.3 179.5h1v1h-1zM125.6 162.8h1v1h-1zM125.1 146.0h1v1h-1zM123.5 165.9h1v1h-1zM124.1 162.1h1v1h-1zM145.6 185.7h1v1h-1zM128.7 147.7h1v1h-1zM126.5 132.5h1v1h-1zM122.9 146.9h1v1h-1zM126.1 182.9h1v1h-1zM127.0 159.4h1v1h-1zM125.8 169.3h1v1h-1zM124.7 159.8h1v1h-1zM125.2 148.3h1v1h-1zM126.4 131.0h1v1h-1zM120.7 164.4h1v1h-1zM120.2 175.1h1v1h-1zM126.7 139.5h1v1h-1zM124.8 170.5h1v1h-1zM124.7 163.3h1v1h-1zM125.8 156.8h1v1h-1zM137.0 153.5h1v1h-1zM127.4 150.5h1v1h-1zM127.0 170.9h1v1h-1zM117.9 133.0h1v1h-1zM122.0 145.4h1v1h-1zM122.0 132.3h1v1h-1zM124.5 137.9h1v1h-1zM124.7 174.7h1v1h-1zM117.5 185.8h1v1h-1zM124.6 180.9h1v1h-1zM127.3 149.2h1v1h-1zM123.3 170.8h1v1h-1zM123.7 152.2h1v1h-1zM125.6 165.5h1v1h-1zM123.7 142.9h1v1h-1zM128.5 176.3h1v1h-1zM125.8 171.1h1v1h-1zM129.7 175.9h1v1h-1zM124.7 150.5h1v1h-1zM124.0 137.7h1v1h-1zM128.1 184.1h1v1h-1zM124.4 184.2h1v1h-1zM126.4 154.7h1v1h-1zM123.5 171.2h1v1h-1zM124.9 174.4h1v1h-1zM125.7 159.1h1v1h-1zM121.1 152.2h1v1h-1zM122.9 147.7h1v1h-1zM117.5 165.0h1v1h-1zM125.1 139.3h1v1h-1zM125.8 164.1h1v1h-1zM126.1 181.6h1v1h-1zM123.4 184.0h1v1h-1zM124.6 183.7h1v1h-1zM125.9 136.8h1v1h-1zM123.4 169.6h1v1h-1zM123.4 134.5h1v1h-1zM131.7 152.2h1v1h-1zM124.3 140.5h1v1h-1zM124.6 153.8h1v1h-1zM122.0 153.3h1v1h-1zM126.1 148.9h1v1h-1zM122.8 170.3h1v1h-1zM126.2 160.3h1v1h-1zM123.9 160.8h1v1h-1zM125.6 144.2h1v1h-1zM121.6 136.6h1v1h-1zM121.7 178.1h1v1h-1zM126.9 152.2h1v1h-1zM122.8 138.9h1v1h-1zM122.3 173.0h1v1h-1zM116.2 138.3h1v1h-1zM123.9 135.6h1v1h-1zM119.6 173.8h1v1h-1zM121.8 168.4h1v1h-1zM130.8 164.8h1v1h-1zM124.5 144.8h1v1h-1zM123.0 181.6h1v1h-1zM122.9 183.4h1v1h-1zM129.1 148.0h1v1h-1zM128.0 173.0h1v1h-1zM125.1 138.3h1v1h-1zM123.6 156.6h1v1h-1zM125.7 138.1h1v1h-1zM121.9 172.8h1v1h-1zM126.1 175.2h1v1h-1zM124.5 183.6h1v1h-1zM123.0 176.2h1v1h-1zM129.6 175.2h1v1h-1zM124.0 156.1h1v1h-1zM120.0 185.2h1v1h-1zM121.1 137.4h1v1h-1zM125.2 155.3h1v1h-1zM122.9 140.6h1v1h-1zM125.2 161.1h1v1h-1zM122.6 165.2h1v1h-1zM126.9 156.4h1v1h-1zM126.2 169.6h1v1h-1zM126.3 182.7h1v1h-1zM121.3 174.3h1v1h-1zM121.3 184.6h1v1h-1zM134.7 155.3h1v1h-1zM125.1 159.5h1v1h-1zM122.5 174.1h1v1h-1zM123.1 139.6h1v1h-1zM121.7 171.3h1v1h-1zM123.1 156.6h1v1h-1zM124.2 150.9h1v1h-1zM142.2 146.8h1v1h-1zM123.7 169.6h1v1h-1zM136.9 160.2h1v1h-1zM127.7 137.6h1v1h-1zM126.7 134.8h1v1h-1zM116.7 185.7h1v1h-1zM116.4 163.1h1v1h-1zM124.0 168.1h1v1h-1zM121.3 156.6h1v1h-1zM125.0 148.7h1v1h-1zM127.5 136.9h1v1h-1zM124.5 164.8h1v1h-1zM126.3 152.5h1v1h-1zM128.4 164.9h1v1h-1zM124.7 143.6h1v1h-1zM123.6 177.0h1v1h-1zM124.6 132.6h1v1h-1zM121.2 173.3h1v1h-1zM124.5 147.4h1v1h-1zM126.0 144.2h1v1h-1zM118.4 182.2h1v1h-1zM126.6 168.0h1v1h-1zM109.6 137.0h1v1h-1zM120.3 152.3h1v1h-1zM127.2 143.1h1v1h-1zM122.7 175.7h1v1h-1zM126.1 155.7h1v1h-1zM128.7 183.2h1v1h-1zM122.0 150.8h1v1h-1zM116.2 166.6h1v1h-1zM125.3 181.3h1v1h-1zM115.9 164.3h1v1h-1zM126.5 158.3h1v1h-1zM121.8 169.3h1v1h-1zM126.1 145.9h1v1h-1zM125.2 138.1h1v1h-1zM128.8 138.0h1v1h-1zM129.1 154.1h1v1h-1zM122.8 148.9h1v1h-1zM123.7 160.3h1v1h-1zM121.7 176.7h1v1h-1zM124.2 161.4h1v1h-1zM125.6 159.9h1v1h-1zM123.9 150.1h1v1h-1zM125.1 146.6h1v1h-1zM123.4 146.1h1v1h-1zM108.2 136.8h1v1h-1zM124.2 182.7h1v1h-1zM122.0 163.1h1v1h-1zM129.7 178.0h1v1h-1zM119.6 182.8h1v1h-1zM125.1 179.7h1v1h-1zM127.0 159.8h1v1h-1zM111.5 142.9h1v1h-1zM125.6 185.4h1v1h-1zM112.8 156.9h1v1h-1zM121.4 175.6h1v1h-1zM124.7 172.1h1v1h-1zM124.9 158.5h1v1h-1zM126.0 157.7h1v1h-1zM130.3 167.5h1v1h-1zM124.8 134.9h1v1h-1zM125.1 146.5h1v1h-1zM121.8 172.3h1v1h-1zM122.4 152.7h1v1h-1zM119.3 175.9h1v1h-1zM125.2 138.4h1v1h-1zM127.2 186.3h1v1h-1zM128.8 146.8h1v1h-1zM125.2 172.7h1v1h-1zM124.0 142.0h1v1h-1zM124.2 156.6h1v1h-1zM127.8 187.3h1v1h-1zM123.8 150.0h1v1h-1zM121.6 153.9h1v1h-1zM121.0 141.3h1v1h-1zM125.3 138.1h1v1h-1zM122.8 153.7h1v1h-1zM125.1 145.0h1v1h-1zM126.8 133.5h1v1h-1zM126.6 137.7h1v1h-1zM129.6 157.5h1v1h-1zM122.7 163.0h1v1h-1zM124.6 153.7h1v1h-1zM131.9 175.6h1v1h-1zM127.3 165.5h1v1h-1zM127.3 146.9h1v1h-1zM102.5 159.0h1v1h-1zM127.5 175.6h1v1h-1zM128.0 182.1h1v1h-1zM125.7 180.9h1v1h-1zM124.1 150.9h1v1h-1zM124.1 151.3h1v1h-1zM122.2 149.5h1v1h-1zM122.6 156.6h1v1h-1zM127.9 179.0h1v1h-1zM122.8 152.4h1v1h-1zM126.7 173.4h1v1h-1zM125.5 142.3h1v1h-1zM132.8 177.8h1v1h-1zM121.4 160.6h1v1h-1zM132.8 166.1h1v1h-1zM125.5 181.1h1v1h-1zM126.6 176.4h1v1h-1zM128.5 155.7h1v1h-1zM125.6 155.9h1v1h-1zM122.9 176.9h1v1h-1zM122.7 178.2h1v1h-1zM136.0 144.0h1v1h-1zM108.0 155.9h1v1h-1zM120.7 176.7h1v1h-1zM121.4 160.6h1v1h-1zM123.7 157.5h1v1h-1zM124.7 185.8h1v1h-1zM123.9 159.7h1v1h-1zM125.7 173.0h1v1h-1zM128.1 145.1h1v1h-1zM124.8 166.6h1v1h-1zM123.2 152.0h1v1h-1zM119.3 134.1h1v1h-1zM124.5 134.3h1v1h-1zM125.1 182.5h1v1h-1zM124.2 163.3h1v1h-1zM130.3 177.5h1v1h-1zM134.9 172.0h1v1h-1zM130.4 151.2h1v1h-1zM126.4 152.4h1v1h-1zM127.3 172.6h1v1h-1zM121.3 138.6h1v1h-1zM123.1 173.2h1v1h-1zM119.1 158.9h1v1h-1zM125.8 159.4h1v1h-1zM123.8 179.6h1v1h-1zM122.0 181.1h1v1h-1zM125.8 137.5h1v1h-1zM116.0 161.2h1v1h-1zM127.1 137.7h1v1h-1zM126.6 137.2h1v1h-1zM122.4 166.8h1v1h-1zM123.4 154.6h1v1h-1zM121.4 155.5h1v1h-1zM127.0 182.5h1v1h-1zM123.6 166.7h1v1h-1zM125.2 183.5h1v1h-1zM117.5 138.0h1v1h-1zM117.4 141.8h1v1h-1zM124.3 138.7h1v1h-1zM126.2 158.5h1v1h-1zM124.5 170.3h1v1h-1zM124.9 171.8h1v1h-1zM114.0 153.0h1v1h-1zM129.6 179.9h1v1h-1zM124.8 142.5h1v1h-1zM122.8 172.1h1v1h-1zM124.2 156.5h1v1h-1zM117.6 158.6h1v1h-1zM124.8 153.6h1v1h-1zM118.8 160.4h1v1h-1zM125.9 182.1h1v1h-1zM114.0 147.1h1v1h-1zM124.8 178.1h1v1h-1zM115.0 143.1h1v1h-1zM116.7 187.3h1v1h-1zM129.2 143.4h1v1h-1zM119.8 145.1h1v1h-1zM129.1 180.7h1v1h-1zM123.5 181.1h1v1h-1zM125.0 155.8h1v1h-1zM124.1 154.9h1v1h-1zM125.4 170.1h1v1h-1zM115.6 157.0h1v1h-1zM127.0 150.3h1v1h-1zM115.7 167.2h1v1h-1zM125.9 186.8h1v1h-1zM123.1 165.7h1v1h-1zM125.8 167.3h1v1h-1zM127.1 162.0h1v1h-1zM124.9 182.9h1v1h-1zM122.8 143.9h1v1h-1zM126.5 174.2h1v1h-1zM124.6 145.5h1v1h-1zM127.0 160.7h1v1h-1zM124.7 167.1h1v1h-1zM79.7 177.1h1v1h-1zM86.7 171.9h1v1h-1zM88.7 180.7h1v1h-1z" fill="#111"/>
<path d="M118.0 83.2h1v1h-1zM114.3 98.5h1v1h-1zM116.0 113.0h1v1h-1zM111.5 48.3h1v1h-1zM111.5 95.2h1v1h-1zM122.3 97.1h1v1h-1zM126.6 112.4h1v1h-1zM114.8 103.7h1v1h-1zM121.6 85.0h1v1h-1zM134.2 108.8h1v1h-1zM105.7 101.5h1v1h-1zM127.6 70.5h1v1h-1zM113.2 84.8h1v1h-1zM118.1 102.4h1v1h-1zM130.6 69.3h1v1h-1zM123.2 92.7h1v1h-1zM132.4 106.5h1v1h-1zM130.6 72.7h1v1h-1zM132.5 75.4h1v1h-1zM135.2 102.3h1v1h-1zM125.3 99.2h1v1h-1z" fill="#777"/>
<rect x="38.2" y="37.2" width="119.7" height="151.5" fill="none" stroke="#777" stroke-width="1.6"/>
<path d="M99.2 37.2V188.7M38.2 122.8H157.9" stroke="#7a7a7a" stroke-width="1.5"/>
<path d="M38.2 188.7H157.9M38.2 37.2V188.7" stroke="#555" stroke-width="1.3"/>
<path d="M38.2 188.7v2.2M38.2 188.7h-2.2M47.2 188.7v1.4M38.2 177.3h-1.4M52.5 188.7v1.4M38.2 170.6h-1.4M56.2 188.7v1.4M38.2 165.9h-1.4M59.1 188.7v1.4M38.2 162.2h-1.4M61.5 188.7v1.4M38.2 159.2h-1.4M63.5 188.7v1.4M38.2 156.7h-1.4M65.2 188.7v1.4M38.2 154.5h-1.4M66.8 188.7v1.4M38.2 152.6h-1.4M68.1 188.7v2.2M38.2 150.8h-2.2M77.1 188.7v1.4M38.2 139.4h-1.4M82.4 188.7v1.4M38.2 132.8h-1.4M86.1 188.7v1.4M38.2 128.0h-1.4M89.0 188.7v1.4M38.2 124.4h-1.4M91.4 188.7v1.4M38.2 121.4h-1.4M93.4 188.7v1.4M38.2 118.8h-1.4M95.1 188.7v1.4M38.2 116.6h-1.4M96.7 188.7v1.4M38.2 114.7h-1.4M98.1 188.7v2.2M38.2 112.9h-2.2M107.1 188.7v1.4M38.2 101.5h-1.4M112.3 188.7v1.4M38.2 94.9h-1.4M116.1 188.7v1.4M38.2 90.1h-1.4M119.0 188.7v1.4M38.2 86.5h-1.4M121.3 188.7v1.4M38.2 83.5h-1.4M123.3 188.7v1.4M38.2 80.9h-1.4M125.1 188.7v1.4M38.2 78.7h-1.4M126.6 188.7v1.4M38.2 76.8h-1.4M128.0 188.7v2.2M38.2 75.1h-2.2M137.0 188.7v1.4M38.2 63.7h-1.4M142.3 188.7v1.4M38.2 57.0h-1.4M146.0 188.7v1.4M38.2 52.3h-1.4M148.9 188.7v1.4M38.2 48.6h-1.4M151.3 188.7v1.4M38.2 45.6h-1.4M153.3 188.7v1.4M38.2 43.1h-1.4M155.0 188.7v1.4M38.2 40.9h-1.4M156.5 188.7v1.4M38.2 38.9h-1.4" stroke="#444" stroke-width="0.9"/>
<text x="44.8" y="198.8" text-anchor="middle" font-family='"Liberation Sans", sans-serif' font-size="8.6" fill="#222">10<tspan font-size="6.2" dx="0.5" dy="-2.8">0</tspan></text>
<text x="75.2" y="198.8" text-anchor="middle" font-family='"Liberation Sans", sans-serif' font-size="8.6" fill="#222">10<tspan font-size="6.2" dx="0.5" dy="-2.8">1</tspan></text>
<text x="104.8" y="198.8" text-anchor="middle" font-family='"Liberation Sans", sans-serif' font-size="8.6" fill="#222">10<tspan font-size="6.2" dx="0.5" dy="-2.8">2</tspan></text>
<text x="134.2" y="198.8" text-anchor="middle" font-family='"Liberation Sans", sans-serif' font-size="8.6" fill="#222">10<tspan font-size="6.2" dx="0.5" dy="-2.8">3</tspan></text>
<text transform="translate(33.7 179.7) rotate(-90)" text-anchor="middle" font-family='"Liberation Sans", sans-serif' font-size="8.6" fill="#222">10<tspan font-size="6.2" dx="0.5" dy="-2.8">0</tspan></text>
<text transform="translate(33.7 144.4) rotate(-90)" text-anchor="middle" font-family='"Liberation Sans", sans-serif' font-size="8.6" fill="#222">10<tspan font-size="6.2" dx="0.5" dy="-2.8">1</tspan></text>
<text transform="translate(33.7 105.0) rotate(-90)" text-anchor="middle" font-family='"Liberation Sans", sans-serif' font-size="8.6" fill="#222">10<tspan font-size="6.2" dx="0.5" dy="-2.8">2</tspan></text>
<text transform="translate(33.7 67.0) rotate(-90)" text-anchor="middle" font-family='"Liberation Sans", sans-serif' font-size="8.6" fill="#222">10<tspan font-size="6.2" dx="0.5" dy="-2.8">3</tspan></text>
<clipPath id="ul1"><rect x="180.3" y="38.2" width="61.3" height="85.2"/></clipPath>
<clipPath id="pl1"><rect x="180.3" y="38.2" width="119.5" height="150.5"/></clipPath>
<g clip-path="url(#ul1)"><polygon points="180.5,88.0 191.0,86.7 204.0,84.7 212.0,84.0 215.5,86.0 216.5,91.0 215.0,96.0 212.0,99.0 204.0,105.0 191.0,108.8 180.5,110.8 178.0,110.8 178.0,88.0" fill="#000"/>
<path d="M217.4 88.9h1v1h-1zM182.3 76.8h1v1h-1zM206.7 105.1h1v1h-1zM211.7 103.8h1v1h-1zM201.3 105.5h1v1h-1zM182.0 110.8h1v1h-1zM195.5 111.4h1v1h-1zM183.6 118.5h1v1h-1zM183.6 110.7h1v1h-1zM198.8 80.2h1v1h-1zM195.4 85.2h1v1h-1zM197.0 107.8h1v1h-1zM200.0 106.4h1v1h-1zM210.9 83.0h1v1h-1zM200.8 107.7h1v1h-1zM216.2 90.4h1v1h-1zM209.1 105.5h1v1h-1zM185.7 112.1h1v1h-1zM191.4 85.6h1v1h-1zM195.2 108.2h1v1h-1zM193.7 107.7h1v1h-1zM206.9 102.6h1v1h-1zM216.6 95.9h1v1h-1zM218.7 88.4h1v1h-1zM181.6 117.6h1v1h-1zM209.3 79.7h1v1h-1zM193.5 84.5h1v1h-1zM185.2 109.7h1v1h-1zM181.9 112.6h1v1h-1zM215.6 84.9h1v1h-1zM215.0 85.1h1v1h-1zM211.2 99.5h1v1h-1zM191.4 83.3h1v1h-1zM191.3 82.5h1v1h-1zM213.3 98.7h1v1h-1zM207.0 109.2h1v1h-1zM197.1 84.1h1v1h-1zM215.0 94.7h1v1h-1zM205.5 109.1h1v1h-1zM195.0 108.7h1v1h-1zM194.3 83.4h1v1h-1zM219.7 86.7h1v1h-1zM200.7 82.4h1v1h-1zM216.0 84.6h1v1h-1zM204.0 82.2h1v1h-1zM218.1 85.2h1v1h-1zM181.2 83.6h1v1h-1zM206.9 83.6h1v1h-1zM182.5 87.1h1v1h-1zM186.1 83.1h1v1h-1zM208.2 80.5h1v1h-1zM184.4 119.0h1v1h-1zM200.2 83.6h1v1h-1zM180.6 86.4h1v1h-1zM203.5 105.6h1v1h-1zM210.7 83.3h1v1h-1zM201.2 84.0h1v1h-1zM201.5 84.1h1v1h-1zM206.4 80.6h1v1h-1zM197.0 109.2h1v1h-1zM221.1 88.1h1v1h-1zM196.9 108.8h1v1h-1zM212.2 82.1h1v1h-1zM182.4 111.4h1v1h-1zM186.4 86.5h1v1h-1zM217.5 91.7h1v1h-1zM214.0 83.5h1v1h-1zM188.2 85.5h1v1h-1zM182.8 80.2h1v1h-1zM181.6 86.3h1v1h-1zM200.9 82.3h1v1h-1zM209.6 101.2h1v1h-1zM190.2 83.1h1v1h-1zM200.2 108.0h1v1h-1zM187.5 84.7h1v1h-1zM208.8 82.4h1v1h-1zM204.7 106.6h1v1h-1zM193.6 111.5h1v1h-1zM191.4 85.0h1v1h-1zM180.6 114.0h1v1h-1zM180.6 82.6h1v1h-1zM202.3 105.0h1v1h-1zM184.5 109.8h1v1h-1zM190.2 84.6h1v1h-1zM193.7 85.6h1v1h-1zM199.7 106.3h1v1h-1zM219.2 97.5h1v1h-1zM200.7 83.1h1v1h-1zM216.2 89.2h1v1h-1zM204.6 107.9h1v1h-1zM213.7 102.6h1v1h-1zM184.3 84.9h1v1h-1zM210.1 74.7h1v1h-1zM216.4 89.5h1v1h-1zM200.9 83.0h1v1h-1zM202.1 84.0h1v1h-1zM181.8 113.3h1v1h-1zM200.8 84.4h1v1h-1zM215.7 92.7h1v1h-1zM225.1 92.6h1v1h-1zM212.8 84.2h1v1h-1zM197.9 106.8h1v1h-1zM212.2 99.3h1v1h-1zM187.0 111.4h1v1h-1zM184.5 85.2h1v1h-1zM190.6 108.5h1v1h-1zM203.2 109.2h1v1h-1zM197.9 80.6h1v1h-1zM190.1 86.2h1v1h-1zM186.3 85.1h1v1h-1zM181.7 110.8h1v1h-1zM210.8 99.3h1v1h-1zM212.3 103.7h1v1h-1zM193.4 112.0h1v1h-1zM215.3 79.7h1v1h-1zM203.4 84.0h1v1h-1zM191.8 82.2h1v1h-1zM213.0 103.6h1v1h-1zM214.5 97.3h1v1h-1zM193.6 108.0h1v1h-1zM188.9 78.6h1v1h-1zM185.0 117.4h1v1h-1zM184.2 81.4h1v1h-1zM201.2 78.8h1v1h-1zM196.8 83.7h1v1h-1zM216.7 88.1h1v1h-1zM220.6 99.1h1v1h-1zM181.6 115.5h1v1h-1zM187.4 110.0h1v1h-1zM181.4 111.3h1v1h-1zM216.5 94.6h1v1h-1zM209.0 102.0h1v1h-1zM196.2 82.9h1v1h-1zM190.6 112.1h1v1h-1zM195.4 106.9h1v1h-1zM186.9 114.2h1v1h-1zM218.3 89.1h1v1h-1zM192.2 108.2h1v1h-1zM182.7 113.3h1v1h-1zM189.6 83.8h1v1h-1zM204.0 105.5h1v1h-1zM192.2 109.8h1v1h-1zM217.5 97.0h1v1h-1zM215.1 94.2h1v1h-1zM196.2 84.8h1v1h-1zM202.8 83.3h1v1h-1zM206.6 78.8h1v1h-1zM214.9 102.6h1v1h-1zM194.4 107.8h1v1h-1zM190.6 109.6h1v1h-1zM214.3 96.1h1v1h-1zM187.9 86.4h1v1h-1zM212.5 98.7h1v1h-1zM186.3 109.1h1v1h-1zM194.7 110.3h1v1h-1zM200.9 81.2h1v1h-1zM214.3 84.6h1v1h-1zM220.1 88.6h1v1h-1zM192.1 84.9h1v1h-1zM206.4 81.2h1v1h-1zM192.4 85.3h1v1h-1zM185.3 84.4h1v1h-1zM198.4 84.0h1v1h-1zM202.3 81.2h1v1h-1zM211.2 100.9h1v1h-1zM219.5 92.9h1v1h-1zM187.1 86.6h1v1h-1zM194.6 83.1h1v1h-1zM211.3 82.1h1v1h-1zM186.8 80.0h1v1h-1zM188.8 113.0h1v1h-1zM185.9 110.9h1v1h-1zM211.3 99.5h1v1h-1zM203.7 106.4h1v1h-1zM191.6 82.4h1v1h-1zM217.3 92.3h1v1h-1zM221.0 83.2h1v1h-1zM212.7 83.9h1v1h-1zM216.2 89.4h1v1h-1zM197.7 110.0h1v1h-1zM192.0 84.6h1v1h-1zM184.7 86.2h1v1h-1zM199.1 109.7h1v1h-1zM206.1 104.2h1v1h-1zM207.8 82.0h1v1h-1zM197.1 107.9h1v1h-1zM212.7 99.2h1v1h-1zM187.9 111.2h1v1h-1zM206.5 107.2h1v1h-1zM211.7 104.8h1v1h-1zM216.0 95.2h1v1h-1zM189.5 84.1h1v1h-1zM181.3 111.4h1v1h-1zM212.6 81.7h1v1h-1zM199.7 110.6h1v1h-1zM182.8 85.0h1v1h-1zM215.4 83.9h1v1h-1zM194.4 109.5h1v1h-1zM204.6 82.1h1v1h-1zM210.8 74.0h1v1h-1zM180.6 117.2h1v1h-1zM216.9 95.1h1v1h-1zM185.7 86.1h1v1h-1zM217.0 87.0h1v1h-1zM215.2 82.5h1v1h-1zM187.1 115.3h1v1h-1zM219.4 82.7h1v1h-1zM218.3 85.4h1v1h-1zM199.1 83.6h1v1h-1zM203.8 104.7h1v1h-1zM204.8 103.9h1v1h-1zM193.0 85.2h1v1h-1zM182.3 85.3h1v1h-1zM211.1 82.8h1v1h-1zM215.5 94.1h1v1h-1zM209.6 82.6h1v1h-1zM219.5 88.2h1v1h-1zM203.8 104.8h1v1h-1zM206.1 106.8h1v1h-1zM191.5 85.0h1v1h-1zM210.0 82.2h1v1h-1zM215.4 83.6h1v1h-1zM210.1 99.7h1v1h-1zM215.8 100.7h1v1h-1zM217.4 84.1h1v1h-1zM202.2 105.4h1v1h-1zM200.7 83.6h1v1h-1zM191.0 83.8h1v1h-1zM211.1 82.3h1v1h-1zM181.6 87.3h1v1h-1zM200.6 106.3h1v1h-1zM215.4 79.8h1v1h-1zM200.8 84.0h1v1h-1zM189.5 109.5h1v1h-1zM201.8 107.2h1v1h-1zM207.0 105.8h1v1h-1zM201.2 82.8h1v1h-1zM218.1 91.9h1v1h-1zM208.9 102.0h1v1h-1zM193.5 109.5h1v1h-1zM187.6 111.2h1v1h-1zM212.6 97.5h1v1h-1zM183.9 113.4h1v1h-1zM192.6 108.3h1v1h-1zM211.4 82.5h1v1h-1zM188.2 83.7h1v1h-1zM215.9 101.3h1v1h-1zM211.0 99.6h1v1h-1zM218.3 93.9h1v1h-1zM188.1 85.7h1v1h-1zM193.5 75.1h1v1h-1zM219.8 90.5h1v1h-1zM212.9 79.7h1v1h-1zM185.4 113.2h1v1h-1zM193.6 115.0h1v1h-1zM201.1 78.0h1v1h-1zM184.2 112.1h1v1h-1zM210.7 100.2h1v1h-1zM213.1 82.9h1v1h-1zM201.0 79.4h1v1h-1zM208.0 105.7h1v1h-1zM191.8 108.2h1v1h-1zM191.6 112.1h1v1h-1zM191.3 115.7h1v1h-1zM222.7 91.5h1v1h-1zM207.5 105.0h1v1h-1zM213.8 102.7h1v1h-1zM187.7 84.0h1v1h-1zM188.9 82.9h1v1h-1zM222.7 82.5h1v1h-1zM182.2 81.5h1v1h-1zM199.1 106.7h1v1h-1zM214.9 84.6h1v1h-1zM203.9 84.0h1v1h-1zM221.2 87.8h1v1h-1zM215.7 77.8h1v1h-1zM191.6 84.9h1v1h-1zM189.2 86.1h1v1h-1zM193.3 108.2h1v1h-1zM214.5 95.6h1v1h-1zM193.3 83.9h1v1h-1zM185.8 86.1h1v1h-1zM208.2 107.6h1v1h-1zM184.6 85.8h1v1h-1zM217.0 94.0h1v1h-1zM214.8 100.1h1v1h-1zM216.4 94.8h1v1h-1zM183.7 84.4h1v1h-1zM203.4 82.0h1v1h-1zM198.8 84.6h1v1h-1zM186.5 113.2h1v1h-1zM205.9 105.1h1v1h-1zM215.8 83.2h1v1h-1zM200.6 111.1h1v1h-1zM209.7 82.5h1v1h-1zM211.2 99.4h1v1h-1zM218.5 84.9h1v1h-1zM196.9 74.9h1v1h-1zM181.2 110.7h1v1h-1zM191.1 109.5h1v1h-1zM216.1 81.6h1v1h-1zM187.2 111.8h1v1h-1zM195.0 83.3h1v1h-1zM217.2 97.8h1v1h-1zM204.5 81.9h1v1h-1zM196.2 106.9h1v1h-1zM213.4 103.7h1v1h-1zM194.2 82.4h1v1h-1zM205.9 77.7h1v1h-1zM188.1 84.0h1v1h-1zM218.0 97.1h1v1h-1zM196.8 80.7h1v1h-1zM191.6 81.2h1v1h-1zM217.7 102.7h1v1h-1zM192.2 85.6h1v1h-1zM212.1 101.6h1v1h-1zM205.5 79.0h1v1h-1zM216.3 85.9h1v1h-1zM181.2 84.4h1v1h-1zM187.5 109.5h1v1h-1zM198.5 82.1h1v1h-1zM213.3 97.7h1v1h-1zM200.3 107.3h1v1h-1zM188.7 84.7h1v1h-1zM204.8 83.0h1v1h-1zM191.2 84.5h1v1h-1zM215.7 88.1h1v1h-1zM213.8 100.4h1v1h-1zM215.3 101.4h1v1h-1zM206.4 102.4h1v1h-1zM196.3 107.0h1v1h-1zM199.5 106.9h1v1h-1zM194.9 112.9h1v1h-1zM184.5 114.6h1v1h-1zM180.7 86.0h1v1h-1zM203.9 104.7h1v1h-1zM208.8 83.4h1v1h-1zM215.6 96.2h1v1h-1zM186.2 86.4h1v1h-1zM199.3 107.6h1v1h-1zM201.9 107.6h1v1h-1zM203.6 104.6h1v1h-1zM211.1 101.3h1v1h-1zM192.7 85.7h1v1h-1zM203.2 111.1h1v1h-1zM190.9 85.6h1v1h-1zM192.4 108.2h1v1h-1zM217.1 102.2h1v1h-1zM206.4 83.7h1v1h-1zM181.2 111.2h1v1h-1zM212.6 83.1h1v1h-1zM184.3 81.0h1v1h-1zM185.0 86.1h1v1h-1zM180.6 87.0h1v1h-1zM206.5 108.2h1v1h-1zM194.9 78.5h1v1h-1zM216.1 84.2h1v1h-1zM189.3 109.4h1v1h-1zM186.7 110.7h1v1h-1zM210.1 101.4h1v1h-1zM203.7 107.5h1v1h-1zM190.7 109.7h1v1h-1zM202.9 82.0h1v1h-1zM218.5 91.5h1v1h-1zM192.8 83.8h1v1h-1zM190.8 112.0h1v1h-1zM198.8 84.2h1v1h-1zM216.6 83.1h1v1h-1zM190.0 114.4h1v1h-1zM210.9 83.0h1v1h-1zM192.1 114.0h1v1h-1zM194.7 108.9h1v1h-1zM211.1 82.4h1v1h-1zM227.0 79.0h1v1h-1zM232.2 77.6h1v1h-1zM202.6 95.1h1v1h-1zM218.4 79.7h1v1h-1zM228.3 78.8h1v1h-1zM213.5 90.4h1v1h-1zM230.3 79.4h1v1h-1zM222.5 69.4h1v1h-1zM215.1 79.6h1v1h-1zM225.1 79.6h1v1h-1zM206.6 88.7h1v1h-1zM216.2 86.5h1v1h-1zM230.4 61.2h1v1h-1zM219.0 77.1h1v1h-1zM222.7 80.5h1v1h-1zM233.7 65.6h1v1h-1zM229.9 76.7h1v1h-1zM228.5 69.2h1v1h-1zM211.4 87.2h1v1h-1zM218.4 83.1h1v1h-1zM227.8 85.5h1v1h-1zM215.2 83.1h1v1h-1zM209.3 80.7h1v1h-1zM224.5 87.4h1v1h-1zM208.4 90.1h1v1h-1zM225.5 74.0h1v1h-1zM210.3 93.6h1v1h-1zM237.7 73.8h1v1h-1zM239.8 63.6h1v1h-1zM227.5 77.0h1v1h-1zM212.8 93.7h1v1h-1zM202.5 84.2h1v1h-1zM234.0 76.5h1v1h-1zM230.6 77.0h1v1h-1zM212.8 92.6h1v1h-1zM212.1 90.1h1v1h-1zM223.7 87.3h1v1h-1zM236.5 72.4h1v1h-1zM211.3 90.6h1v1h-1zM230.6 86.2h1v1h-1zM229.6 76.2h1v1h-1zM213.1 99.4h1v1h-1zM197.7 106.3h1v1h-1zM222.6 77.8h1v1h-1zM225.5 79.6h1v1h-1zM219.3 71.8h1v1h-1zM204.1 88.0h1v1h-1zM225.7 80.5h1v1h-1zM235.6 80.7h1v1h-1zM232.5 65.5h1v1h-1zM206.5 93.1h1v1h-1zM215.0 81.6h1v1h-1zM213.8 88.0h1v1h-1zM214.1 81.0h1v1h-1zM218.6 96.2h1v1h-1zM224.8 77.2h1v1h-1zM226.4 73.1h1v1h-1zM234.0 57.4h1v1h-1zM233.2 62.9h1v1h-1zM218.7 85.4h1v1h-1zM219.8 81.4h1v1h-1zM218.1 80.7h1v1h-1zM232.6 81.7h1v1h-1zM221.9 72.3h1v1h-1zM217.2 88.3h1v1h-1zM228.0 85.4h1v1h-1zM217.1 75.0h1v1h-1zM217.7 78.3h1v1h-1zM224.5 74.3h1v1h-1zM219.6 74.4h1v1h-1zM232.8 68.8h1v1h-1zM213.4 82.8h1v1h-1zM234.8 77.1h1v1h-1zM211.3 92.6h1v1h-1zM210.5 89.4h1v1h-1zM204.6 100.8h1v1h-1zM229.5 69.2h1v1h-1zM228.0 80.7h1v1h-1zM222.7 74.9h1v1h-1zM227.2 86.2h1v1h-1zM223.2 78.8h1v1h-1zM212.6 83.3h1v1h-1zM237.1 68.9h1v1h-1zM220.2 85.8h1v1h-1zM208.8 88.9h1v1h-1zM230.6 83.0h1v1h-1zM214.7 86.7h1v1h-1zM225.1 72.5h1v1h-1zM228.9 69.6h1v1h-1zM220.1 78.4h1v1h-1zM230.3 73.9h1v1h-1zM199.3 96.5h1v1h-1zM226.7 75.9h1v1h-1zM218.0 91.4h1v1h-1zM229.2 74.8h1v1h-1zM227.1 78.4h1v1h-1zM220.9 92.3h1v1h-1zM235.5 77.0h1v1h-1zM227.8 80.9h1v1h-1zM214.5 83.8h1v1h-1zM222.8 74.9h1v1h-1zM212.6 89.0h1v1h-1zM224.5 82.3h1v1h-1zM224.6 72.4h1v1h-1zM225.0 89.5h1v1h-1zM231.1 73.3h1v1h-1zM218.0 99.0h1v1h-1zM222.0 84.0h1v1h-1zM233.1 72.0h1v1h-1zM222.6 67.6h1v1h-1zM221.2 71.5h1v1h-1zM227.9 66.7h1v1h-1zM230.0 85.2h1v1h-1zM216.7 90.5h1v1h-1zM217.9 82.5h1v1h-1zM216.4 83.1h1v1h-1zM236.7 71.2h1v1h-1zM216.2 86.9h1v1h-1zM221.5 78.0h1v1h-1zM221.3 84.7h1v1h-1zM233.5 75.4h1v1h-1zM234.2 72.2h1v1h-1zM234.2 76.8h1v1h-1zM220.8 77.7h1v1h-1zM216.4 89.8h1v1h-1zM207.8 92.2h1v1h-1zM214.5 93.8h1v1h-1zM228.6 78.9h1v1h-1zM228.8 78.6h1v1h-1zM224.8 86.3h1v1h-1zM206.9 92.3h1v1h-1zM219.0 89.7h1v1h-1zM207.5 93.6h1v1h-1zM232.4 80.5h1v1h-1zM233.8 74.9h1v1h-1zM227.9 71.3h1v1h-1zM229.3 81.5h1v1h-1zM225.8 80.8h1v1h-1zM236.6 77.4h1v1h-1zM207.2 93.0h1v1h-1zM230.4 75.5h1v1h-1zM216.2 86.4h1v1h-1zM223.3 86.5h1v1h-1zM219.1 83.8h1v1h-1zM215.6 82.8h1v1h-1zM222.3 74.7h1v1h-1zM227.1 77.8h1v1h-1zM238.1 69.5h1v1h-1zM224.7 82.5h1v1h-1zM220.2 86.2h1v1h-1zM212.0 90.6h1v1h-1zM225.0 81.0h1v1h-1zM227.3 73.5h1v1h-1zM240.0 78.9h1v1h-1zM232.5 71.4h1v1h-1zM223.6 74.2h1v1h-1zM206.9 53.4h1v1h-1zM237.0 53.1h1v1h-1zM235.8 50.6h1v1h-1zM233.2 73.3h1v1h-1zM209.4 50.0h1v1h-1zM215.8 72.5h1v1h-1zM232.9 77.3h1v1h-1zM228.4 77.2h1v1h-1zM214.7 67.3h1v1h-1z" fill="#111"/></g>
<path d="M263.6 157.3h1v1h-1zM266.3 166.7h1v1h-1zM269.2 128.5h1v1h-1zM265.1 148.3h1v1h-1zM268.8 150.0h1v1h-1zM269.9 144.2h1v1h-1zM268.1 134.7h1v1h-1zM264.2 153.6h1v1h-1zM263.4 138.8h1v1h-1zM266.6 138.4h1v1h-1zM264.6 154.5h1v1h-1zM261.6 158.1h1v1h-1zM272.0 175.2h1v1h-1zM277.9 173.7h1v1h-1zM267.3 144.8h1v1h-1zM268.3 149.5h1v1h-1zM285.9 151.9h1v1h-1zM262.0 153.2h1v1h-1zM265.1 163.5h1v1h-1zM266.5 155.3h1v1h-1zM251.1 175.6h1v1h-1zM278.3 173.0h1v1h-1zM267.5 187.1h1v1h-1zM257.4 142.5h1v1h-1zM264.2 173.8h1v1h-1zM269.1 170.2h1v1h-1zM268.7 142.4h1v1h-1zM261.2 139.8h1v1h-1zM263.8 155.7h1v1h-1zM257.9 143.4h1v1h-1zM265.4 185.0h1v1h-1zM263.0 160.9h1v1h-1zM267.3 184.3h1v1h-1zM277.0 157.4h1v1h-1zM265.8 136.9h1v1h-1zM268.5 166.0h1v1h-1zM269.1 131.2h1v1h-1zM265.9 163.6h1v1h-1zM266.1 154.1h1v1h-1zM268.5 183.1h1v1h-1zM269.4 186.0h1v1h-1zM266.6 149.8h1v1h-1zM267.5 130.2h1v1h-1zM268.6 165.4h1v1h-1zM266.9 134.6h1v1h-1zM260.2 148.2h1v1h-1zM276.2 151.3h1v1h-1zM264.9 150.7h1v1h-1zM269.8 178.9h1v1h-1zM264.5 146.2h1v1h-1zM267.1 186.5h1v1h-1zM264.9 137.4h1v1h-1zM261.8 159.4h1v1h-1zM280.0 175.8h1v1h-1zM272.3 157.7h1v1h-1zM266.4 149.9h1v1h-1zM270.9 178.6h1v1h-1zM270.1 133.8h1v1h-1zM264.1 155.0h1v1h-1zM267.0 162.2h1v1h-1zM269.1 174.5h1v1h-1zM263.7 173.0h1v1h-1zM264.0 180.8h1v1h-1zM268.2 167.7h1v1h-1zM266.8 163.4h1v1h-1zM252.6 158.1h1v1h-1zM265.6 182.2h1v1h-1zM267.5 172.5h1v1h-1zM267.7 166.9h1v1h-1zM274.8 161.3h1v1h-1zM254.8 146.2h1v1h-1zM263.0 178.2h1v1h-1zM257.4 180.8h1v1h-1zM268.2 167.5h1v1h-1zM266.8 150.3h1v1h-1zM268.3 171.8h1v1h-1zM260.1 130.4h1v1h-1zM266.8 166.7h1v1h-1zM267.0 157.9h1v1h-1zM265.8 158.5h1v1h-1zM265.5 144.3h1v1h-1zM266.5 146.3h1v1h-1zM266.7 183.9h1v1h-1zM268.8 175.7h1v1h-1zM265.6 133.5h1v1h-1zM272.8 169.2h1v1h-1zM267.2 137.2h1v1h-1zM269.0 175.5h1v1h-1zM260.8 155.3h1v1h-1zM263.9 150.2h1v1h-1zM251.6 181.5h1v1h-1zM261.7 173.5h1v1h-1zM264.6 136.7h1v1h-1zM269.4 169.9h1v1h-1zM268.2 125.2h1v1h-1zM269.7 130.1h1v1h-1zM275.4 139.0h1v1h-1zM275.2 175.7h1v1h-1zM265.3 146.4h1v1h-1zM260.5 173.0h1v1h-1zM254.7 181.5h1v1h-1zM268.6 155.1h1v1h-1zM264.3 161.5h1v1h-1zM260.9 145.5h1v1h-1zM250.1 182.8h1v1h-1zM245.8 182.9h1v1h-1zM264.4 165.5h1v1h-1zM272.1 169.9h1v1h-1zM264.9 147.9h1v1h-1zM268.6 183.8h1v1h-1zM269.5 182.3h1v1h-1zM266.9 164.2h1v1h-1zM269.2 155.8h1v1h-1zM258.7 145.7h1v1h-1zM269.7 154.8h1v1h-1zM264.8 136.0h1v1h-1zM272.1 128.8h1v1h-1zM268.2 137.1h1v1h-1zM268.2 171.9h1v1h-1zM271.9 145.6h1v1h-1zM273.3 133.4h1v1h-1zM267.6 144.6h1v1h-1zM263.8 170.3h1v1h-1zM264.0 156.1h1v1h-1zM277.2 174.7h1v1h-1zM267.2 148.2h1v1h-1zM267.0 128.3h1v1h-1zM247.3 159.2h1v1h-1zM258.6 161.4h1v1h-1zM267.1 172.3h1v1h-1zM265.3 172.5h1v1h-1zM269.3 136.7h1v1h-1zM265.2 131.1h1v1h-1zM279.9 169.7h1v1h-1zM265.7 180.3h1v1h-1zM272.2 186.8h1v1h-1zM266.6 158.1h1v1h-1zM270.8 147.8h1v1h-1zM269.7 166.4h1v1h-1zM264.0 170.9h1v1h-1zM267.5 142.5h1v1h-1zM268.9 136.5h1v1h-1zM265.3 154.0h1v1h-1zM268.6 130.3h1v1h-1zM263.9 174.7h1v1h-1zM266.8 151.9h1v1h-1zM256.9 157.7h1v1h-1zM264.8 168.3h1v1h-1zM266.9 161.4h1v1h-1zM271.5 156.6h1v1h-1zM267.3 162.9h1v1h-1zM268.3 166.0h1v1h-1zM267.7 176.8h1v1h-1zM258.5 169.2h1v1h-1zM268.3 167.1h1v1h-1zM265.6 152.6h1v1h-1zM275.0 149.3h1v1h-1zM287.6 136.6h1v1h-1zM254.6 172.7h1v1h-1zM272.1 137.6h1v1h-1zM266.6 142.4h1v1h-1zM256.6 142.6h1v1h-1zM255.2 173.2h1v1h-1zM273.8 184.1h1v1h-1zM259.0 174.3h1v1h-1zM262.9 139.0h1v1h-1zM268.9 158.9h1v1h-1zM269.4 180.2h1v1h-1zM268.8 145.9h1v1h-1zM265.5 176.1h1v1h-1zM270.8 131.3h1v1h-1zM266.8 142.2h1v1h-1zM267.2 159.3h1v1h-1zM266.4 151.5h1v1h-1zM268.4 185.8h1v1h-1zM283.1 152.4h1v1h-1zM267.9 141.7h1v1h-1zM263.0 171.9h1v1h-1zM267.0 133.7h1v1h-1zM268.5 151.7h1v1h-1zM263.1 173.9h1v1h-1zM266.3 128.0h1v1h-1zM271.1 181.9h1v1h-1zM270.8 147.9h1v1h-1zM269.1 179.1h1v1h-1zM266.9 167.1h1v1h-1zM268.1 169.2h1v1h-1zM271.2 168.6h1v1h-1zM267.8 145.9h1v1h-1zM262.0 147.0h1v1h-1zM271.1 170.8h1v1h-1zM239.8 183.7h1v1h-1zM256.6 182.7h1v1h-1zM268.2 152.6h1v1h-1zM277.2 142.1h1v1h-1zM265.9 154.5h1v1h-1zM264.6 176.9h1v1h-1zM262.3 144.1h1v1h-1zM263.8 151.4h1v1h-1zM266.6 129.7h1v1h-1zM275.8 165.7h1v1h-1zM266.9 160.9h1v1h-1zM269.8 170.4h1v1h-1zM268.5 177.0h1v1h-1zM277.0 173.4h1v1h-1zM262.7 144.3h1v1h-1zM265.9 153.1h1v1h-1zM269.4 156.3h1v1h-1zM267.3 177.0h1v1h-1zM263.1 186.2h1v1h-1zM261.2 140.4h1v1h-1zM277.6 141.8h1v1h-1zM277.4 145.4h1v1h-1zM264.6 138.8h1v1h-1zM269.1 159.4h1v1h-1zM267.9 153.3h1v1h-1zM264.6 158.4h1v1h-1zM264.6 172.7h1v1h-1zM264.2 170.3h1v1h-1zM270.0 142.5h1v1h-1zM263.4 178.1h1v1h-1zM267.8 167.9h1v1h-1zM261.2 140.0h1v1h-1zM277.3 150.9h1v1h-1zM266.8 161.3h1v1h-1zM268.0 142.9h1v1h-1zM268.2 150.5h1v1h-1zM262.3 150.3h1v1h-1zM267.2 163.0h1v1h-1zM264.7 178.5h1v1h-1zM266.6 142.0h1v1h-1zM266.4 147.4h1v1h-1zM266.7 129.5h1v1h-1zM256.2 135.2h1v1h-1zM260.5 168.0h1v1h-1zM277.7 150.5h1v1h-1zM267.4 173.9h1v1h-1zM268.9 147.4h1v1h-1zM255.8 151.4h1v1h-1zM268.4 132.0h1v1h-1zM268.9 160.8h1v1h-1zM268.8 152.9h1v1h-1zM263.3 132.4h1v1h-1zM266.1 176.7h1v1h-1zM263.7 171.0h1v1h-1zM265.2 180.0h1v1h-1zM262.6 182.6h1v1h-1zM265.3 152.8h1v1h-1zM270.3 152.5h1v1h-1zM263.7 165.4h1v1h-1zM264.2 175.6h1v1h-1zM269.1 137.8h1v1h-1zM268.7 166.1h1v1h-1zM264.9 136.1h1v1h-1zM262.8 148.0h1v1h-1zM267.6 164.1h1v1h-1zM267.2 141.5h1v1h-1zM265.8 184.0h1v1h-1zM268.0 161.9h1v1h-1zM269.0 158.1h1v1h-1zM269.2 153.6h1v1h-1zM269.6 162.4h1v1h-1zM265.7 174.3h1v1h-1zM266.9 134.0h1v1h-1zM267.3 182.9h1v1h-1zM263.2 142.8h1v1h-1zM266.6 146.9h1v1h-1zM265.7 163.2h1v1h-1zM271.1 144.4h1v1h-1zM266.0 186.3h1v1h-1zM270.2 164.1h1v1h-1zM264.1 136.6h1v1h-1zM264.3 164.1h1v1h-1zM266.1 146.2h1v1h-1zM270.1 142.9h1v1h-1zM271.3 156.2h1v1h-1zM261.2 137.4h1v1h-1zM253.3 154.2h1v1h-1zM266.4 146.3h1v1h-1zM268.3 145.9h1v1h-1zM265.3 136.2h1v1h-1zM272.1 166.6h1v1h-1zM266.1 174.4h1v1h-1zM261.9 156.0h1v1h-1zM267.3 153.2h1v1h-1zM271.3 137.6h1v1h-1zM267.3 155.7h1v1h-1zM266.5 168.9h1v1h-1zM267.3 136.2h1v1h-1zM265.0 154.4h1v1h-1zM275.1 186.7h1v1h-1zM255.2 175.4h1v1h-1zM262.9 174.5h1v1h-1zM268.6 135.7h1v1h-1zM268.2 131.7h1v1h-1zM263.5 174.0h1v1h-1zM265.7 167.6h1v1h-1zM266.1 185.6h1v1h-1zM264.3 153.9h1v1h-1zM258.3 154.6h1v1h-1zM267.3 140.5h1v1h-1zM268.5 172.1h1v1h-1zM266.7 165.8h1v1h-1zM272.9 161.3h1v1h-1zM265.6 181.3h1v1h-1zM266.1 145.6h1v1h-1zM269.0 150.2h1v1h-1zM260.9 161.8h1v1h-1zM255.3 162.3h1v1h-1zM266.2 172.7h1v1h-1zM265.2 151.6h1v1h-1zM269.1 139.1h1v1h-1zM265.8 156.0h1v1h-1zM267.7 170.8h1v1h-1zM271.8 171.9h1v1h-1zM240.1 165.0h1v1h-1zM267.1 183.3h1v1h-1zM271.3 177.1h1v1h-1zM270.4 178.7h1v1h-1zM262.1 137.7h1v1h-1zM262.9 137.9h1v1h-1zM267.8 151.4h1v1h-1zM265.5 150.6h1v1h-1zM268.3 144.4h1v1h-1zM265.9 139.8h1v1h-1zM270.7 172.4h1v1h-1zM264.8 181.6h1v1h-1zM268.6 163.1h1v1h-1zM259.4 152.6h1v1h-1zM271.5 166.2h1v1h-1zM259.3 169.6h1v1h-1zM264.6 132.0h1v1h-1zM262.4 186.0h1v1h-1zM258.4 173.6h1v1h-1zM268.7 185.9h1v1h-1zM256.8 185.6h1v1h-1zM269.0 144.0h1v1h-1zM260.8 164.7h1v1h-1zM267.2 175.9h1v1h-1zM264.6 155.4h1v1h-1zM266.7 162.9h1v1h-1zM267.0 183.7h1v1h-1zM267.9 145.4h1v1h-1zM269.4 182.7h1v1h-1zM266.3 168.1h1v1h-1zM271.8 182.0h1v1h-1zM265.2 167.7h1v1h-1zM282.1 154.3h1v1h-1zM264.1 166.1h1v1h-1zM268.3 165.0h1v1h-1zM267.6 147.7h1v1h-1zM267.9 186.2h1v1h-1zM267.5 163.7h1v1h-1zM269.1 175.5h1v1h-1zM270.2 134.2h1v1h-1zM257.1 174.3h1v1h-1zM269.4 175.0h1v1h-1zM264.5 151.8h1v1h-1zM267.5 146.6h1v1h-1zM268.0 171.6h1v1h-1zM267.6 186.9h1v1h-1zM267.3 144.8h1v1h-1zM263.6 153.5h1v1h-1zM267.3 160.4h1v1h-1zM264.5 139.1h1v1h-1zM267.8 140.6h1v1h-1zM278.7 127.3h1v1h-1zM269.2 135.4h1v1h-1zM268.2 163.1h1v1h-1zM266.8 181.1h1v1h-1zM268.2 186.3h1v1h-1zM261.4 155.8h1v1h-1zM264.4 155.3h1v1h-1zM251.6 183.1h1v1h-1zM264.5 157.3h1v1h-1zM265.9 126.9h1v1h-1zM266.8 170.2h1v1h-1zM267.8 143.5h1v1h-1zM268.3 146.1h1v1h-1zM267.5 135.0h1v1h-1zM265.1 184.3h1v1h-1zM265.2 141.7h1v1h-1zM263.9 144.3h1v1h-1zM265.4 160.1h1v1h-1zM263.3 158.8h1v1h-1zM261.1 140.7h1v1h-1zM265.4 150.0h1v1h-1zM279.6 148.5h1v1h-1zM271.1 147.9h1v1h-1zM264.7 183.0h1v1h-1zM248.7 155.9h1v1h-1zM274.0 179.7h1v1h-1zM264.2 141.9h1v1h-1zM269.2 137.4h1v1h-1zM276.0 178.9h1v1h-1zM268.5 151.9h1v1h-1zM268.5 154.3h1v1h-1zM269.6 156.4h1v1h-1zM256.0 143.3h1v1h-1zM266.5 165.9h1v1h-1zM268.0 162.2h1v1h-1zM266.1 157.2h1v1h-1zM265.0 161.3h1v1h-1zM263.0 134.6h1v1h-1zM268.3 160.6h1v1h-1zM265.9 157.3h1v1h-1zM266.1 139.5h1v1h-1zM266.2 149.1h1v1h-1zM268.5 172.7h1v1h-1zM265.6 176.6h1v1h-1zM269.3 150.4h1v1h-1zM252.9 176.9h1v1h-1zM267.7 168.2h1v1h-1zM266.1 143.9h1v1h-1zM264.8 137.2h1v1h-1zM266.3 151.4h1v1h-1zM263.0 173.4h1v1h-1zM265.4 156.4h1v1h-1zM266.8 149.5h1v1h-1zM265.3 184.1h1v1h-1zM269.2 139.0h1v1h-1zM264.8 165.0h1v1h-1zM260.4 181.6h1v1h-1zM258.4 178.3h1v1h-1zM266.2 138.9h1v1h-1zM266.0 130.3h1v1h-1zM266.4 152.1h1v1h-1zM262.1 127.5h1v1h-1zM267.5 167.9h1v1h-1zM262.5 163.6h1v1h-1zM260.4 165.0h1v1h-1zM263.9 161.3h1v1h-1zM266.0 152.4h1v1h-1zM263.6 150.2h1v1h-1zM265.9 144.6h1v1h-1zM272.4 177.6h1v1h-1zM268.1 170.2h1v1h-1zM265.9 151.2h1v1h-1zM258.9 157.3h1v1h-1zM252.7 180.9h1v1h-1zM267.7 185.4h1v1h-1zM263.6 168.1h1v1h-1zM270.1 153.8h1v1h-1zM266.7 171.3h1v1h-1zM265.9 183.2h1v1h-1zM266.6 142.5h1v1h-1zM261.9 176.3h1v1h-1zM267.0 155.4h1v1h-1zM270.2 181.0h1v1h-1zM266.7 185.5h1v1h-1zM274.1 184.1h1v1h-1zM262.6 149.7h1v1h-1zM267.5 163.7h1v1h-1zM272.8 172.1h1v1h-1zM270.6 153.8h1v1h-1zM265.4 172.1h1v1h-1zM260.7 176.7h1v1h-1zM268.6 149.2h1v1h-1zM266.1 180.1h1v1h-1zM266.3 139.7h1v1h-1zM263.0 168.3h1v1h-1zM264.4 152.0h1v1h-1zM270.3 183.9h1v1h-1zM272.7 177.2h1v1h-1zM267.0 148.2h1v1h-1zM265.1 149.9h1v1h-1zM271.4 149.9h1v1h-1zM272.6 164.3h1v1h-1zM273.1 150.6h1v1h-1zM265.7 173.4h1v1h-1zM266.0 134.7h1v1h-1zM266.3 140.2h1v1h-1zM267.7 163.3h1v1h-1zM268.8 185.4h1v1h-1zM263.9 150.3h1v1h-1zM247.4 182.2h1v1h-1zM265.6 159.7h1v1h-1zM268.7 161.3h1v1h-1zM261.4 164.1h1v1h-1zM266.6 152.3h1v1h-1zM255.6 165.4h1v1h-1zM266.5 142.7h1v1h-1zM263.5 155.5h1v1h-1zM266.0 166.4h1v1h-1zM254.4 183.2h1v1h-1zM254.0 147.0h1v1h-1zM268.0 133.5h1v1h-1zM270.3 146.8h1v1h-1zM267.1 133.2h1v1h-1zM269.6 147.8h1v1h-1zM268.9 159.2h1v1h-1zM264.5 154.5h1v1h-1zM268.0 178.3h1v1h-1zM260.7 186.2h1v1h-1zM267.7 149.3h1v1h-1zM264.1 143.3h1v1h-1zM267.7 152.7h1v1h-1zM264.7 170.4h1v1h-1zM265.5 142.7h1v1h-1zM261.6 184.7h1v1h-1zM250.7 130.1h1v1h-1zM266.9 179.0h1v1h-1zM262.6 168.9h1v1h-1zM267.1 143.0h1v1h-1zM264.9 145.9h1v1h-1zM271.3 179.6h1v1h-1zM269.3 152.7h1v1h-1zM264.8 168.7h1v1h-1zM267.1 145.9h1v1h-1zM268.2 132.0h1v1h-1zM268.5 147.5h1v1h-1zM267.8 156.0h1v1h-1zM263.9 174.8h1v1h-1zM269.1 129.3h1v1h-1zM264.3 175.8h1v1h-1zM267.4 125.6h1v1h-1zM268.8 130.4h1v1h-1zM264.0 181.3h1v1h-1zM265.9 169.6h1v1h-1zM264.4 156.8h1v1h-1zM262.8 152.3h1v1h-1zM268.6 129.1h1v1h-1zM257.6 182.9h1v1h-1zM270.0 165.3h1v1h-1zM268.8 164.8h1v1h-1zM263.0 144.3h1v1h-1zM266.3 161.1h1v1h-1zM263.7 132.2h1v1h-1zM263.6 149.7h1v1h-1zM267.4 136.9h1v1h-1zM268.5 153.5h1v1h-1zM265.6 138.7h1v1h-1zM270.5 164.0h1v1h-1zM266.9 156.7h1v1h-1zM276.3 148.9h1v1h-1zM270.1 175.8h1v1h-1zM266.8 138.7h1v1h-1zM270.9 161.8h1v1h-1zM264.9 172.5h1v1h-1zM263.8 155.1h1v1h-1zM267.3 174.8h1v1h-1zM269.5 152.6h1v1h-1zM263.9 182.2h1v1h-1zM271.2 165.7h1v1h-1zM269.4 157.1h1v1h-1zM258.9 139.6h1v1h-1zM271.1 162.1h1v1h-1zM265.4 145.4h1v1h-1zM266.5 166.2h1v1h-1zM272.7 171.3h1v1h-1zM265.3 149.9h1v1h-1zM269.2 158.3h1v1h-1zM269.0 170.0h1v1h-1zM266.4 139.9h1v1h-1zM265.1 143.8h1v1h-1zM267.7 177.7h1v1h-1zM263.9 138.1h1v1h-1zM259.1 149.0h1v1h-1zM265.5 172.1h1v1h-1zM260.9 153.5h1v1h-1zM268.9 164.5h1v1h-1zM266.8 169.6h1v1h-1zM263.6 159.1h1v1h-1zM270.2 180.6h1v1h-1zM282.6 174.2h1v1h-1zM269.5 171.4h1v1h-1zM265.4 143.0h1v1h-1zM246.8 187.0h1v1h-1zM263.2 138.5h1v1h-1zM267.2 133.0h1v1h-1zM264.3 176.4h1v1h-1zM265.0 154.9h1v1h-1zM270.6 137.5h1v1h-1zM267.8 154.4h1v1h-1zM265.2 139.5h1v1h-1zM271.8 179.1h1v1h-1zM266.3 168.9h1v1h-1zM272.6 159.0h1v1h-1zM265.9 142.8h1v1h-1zM267.5 154.3h1v1h-1zM268.7 175.1h1v1h-1zM266.1 138.3h1v1h-1zM262.7 184.0h1v1h-1zM268.0 156.3h1v1h-1zM267.0 173.4h1v1h-1zM268.4 172.3h1v1h-1zM263.3 147.0h1v1h-1zM269.4 166.7h1v1h-1zM261.5 160.7h1v1h-1zM267.3 140.4h1v1h-1zM263.4 163.0h1v1h-1zM262.9 164.8h1v1h-1zM268.5 144.8h1v1h-1zM269.9 151.8h1v1h-1zM255.2 175.6h1v1h-1zM264.7 184.1h1v1h-1zM267.2 135.2h1v1h-1zM264.8 139.4h1v1h-1zM265.6 130.5h1v1h-1zM264.2 181.3h1v1h-1zM265.1 152.8h1v1h-1zM266.3 166.6h1v1h-1zM264.5 149.2h1v1h-1zM268.3 184.3h1v1h-1zM269.1 161.7h1v1h-1zM255.5 141.4h1v1h-1zM268.6 142.9h1v1h-1zM262.7 175.0h1v1h-1zM267.1 146.0h1v1h-1zM268.3 136.5h1v1h-1zM264.6 155.3h1v1h-1zM268.6 162.2h1v1h-1zM269.9 181.9h1v1h-1zM269.1 153.8h1v1h-1zM270.6 179.1h1v1h-1zM265.9 171.1h1v1h-1zM272.4 175.6h1v1h-1zM268.3 157.5h1v1h-1zM273.6 140.5h1v1h-1zM266.1 181.9h1v1h-1zM263.8 162.2h1v1h-1zM247.1 184.5h1v1h-1zM264.0 133.4h1v1h-1zM266.3 134.7h1v1h-1zM267.0 151.5h1v1h-1zM265.2 147.7h1v1h-1zM262.5 185.7h1v1h-1zM264.9 158.0h1v1h-1zM262.6 183.4h1v1h-1zM266.1 164.0h1v1h-1zM269.6 144.9h1v1h-1zM267.2 132.3h1v1h-1zM268.2 140.0h1v1h-1zM265.8 160.8h1v1h-1zM268.8 149.2h1v1h-1zM266.4 141.4h1v1h-1zM270.1 182.2h1v1h-1zM258.2 132.1h1v1h-1zM265.4 168.2h1v1h-1zM266.2 149.6h1v1h-1zM268.8 180.0h1v1h-1zM269.4 173.7h1v1h-1zM273.2 128.8h1v1h-1zM273.4 133.2h1v1h-1zM267.4 167.3h1v1h-1zM237.8 157.4h1v1h-1zM267.2 166.9h1v1h-1zM275.7 169.0h1v1h-1zM265.8 165.5h1v1h-1zM267.7 178.9h1v1h-1zM263.7 179.2h1v1h-1zM263.9 159.5h1v1h-1zM266.9 148.1h1v1h-1zM267.5 131.4h1v1h-1zM266.1 157.6h1v1h-1zM269.1 153.7h1v1h-1zM266.4 158.4h1v1h-1zM263.9 154.3h1v1h-1zM267.4 163.0h1v1h-1zM272.4 153.7h1v1h-1zM266.3 171.8h1v1h-1zM265.3 157.4h1v1h-1zM264.8 169.1h1v1h-1zM263.8 170.4h1v1h-1zM268.8 134.2h1v1h-1zM264.0 165.0h1v1h-1zM266.1 151.7h1v1h-1zM249.8 147.3h1v1h-1zM267.2 156.6h1v1h-1zM256.9 166.0h1v1h-1zM265.1 134.4h1v1h-1zM265.4 185.1h1v1h-1zM266.3 144.9h1v1h-1zM249.0 168.3h1v1h-1zM259.8 154.4h1v1h-1zM271.7 134.2h1v1h-1zM263.6 173.0h1v1h-1zM268.6 145.2h1v1h-1zM269.3 177.1h1v1h-1zM251.4 134.3h1v1h-1zM262.0 161.0h1v1h-1zM265.1 177.4h1v1h-1zM269.2 146.6h1v1h-1zM255.1 155.4h1v1h-1zM269.9 154.1h1v1h-1zM269.0 131.0h1v1h-1zM275.6 149.1h1v1h-1zM251.9 144.3h1v1h-1zM263.7 167.8h1v1h-1zM268.0 182.6h1v1h-1zM270.1 170.2h1v1h-1zM263.7 185.4h1v1h-1zM267.1 170.9h1v1h-1zM265.6 131.7h1v1h-1zM269.5 154.7h1v1h-1zM265.7 135.6h1v1h-1zM263.5 135.2h1v1h-1zM266.1 144.1h1v1h-1zM261.3 166.6h1v1h-1zM254.6 182.1h1v1h-1zM262.1 143.0h1v1h-1zM270.8 181.5h1v1h-1zM265.6 148.7h1v1h-1zM256.4 135.9h1v1h-1zM272.9 162.8h1v1h-1zM264.3 152.5h1v1h-1zM266.4 142.6h1v1h-1zM260.9 176.9h1v1h-1zM250.6 173.9h1v1h-1zM262.1 159.1h1v1h-1zM266.4 184.0h1v1h-1zM265.3 165.5h1v1h-1zM256.2 183.5h1v1h-1zM262.9 161.5h1v1h-1zM277.0 140.9h1v1h-1zM268.0 169.1h1v1h-1zM265.8 157.5h1v1h-1zM266.1 164.1h1v1h-1zM265.1 149.2h1v1h-1zM265.1 184.0h1v1h-1zM268.1 179.5h1v1h-1zM268.5 159.3h1v1h-1zM269.9 153.4h1v1h-1zM265.8 160.8h1v1h-1zM265.8 182.8h1v1h-1zM263.7 145.7h1v1h-1zM269.0 157.8h1v1h-1zM263.7 171.6h1v1h-1zM267.3 181.1h1v1h-1zM263.0 168.1h1v1h-1zM266.3 176.9h1v1h-1zM265.5 157.5h1v1h-1zM270.2 180.6h1v1h-1zM266.8 168.8h1v1h-1zM267.9 162.9h1v1h-1zM270.1 185.3h1v1h-1zM266.2 162.8h1v1h-1zM268.8 167.7h1v1h-1zM256.2 140.5h1v1h-1zM263.8 161.9h1v1h-1zM269.2 159.0h1v1h-1zM266.2 171.0h1v1h-1zM267.1 184.0h1v1h-1zM266.6 139.9h1v1h-1zM268.5 165.2h1v1h-1zM271.1 186.7h1v1h-1zM265.4 161.3h1v1h-1zM280.1 156.9h1v1h-1zM267.0 164.1h1v1h-1zM270.7 141.2h1v1h-1zM267.7 150.4h1v1h-1zM263.4 182.7h1v1h-1zM271.0 141.2h1v1h-1zM278.6 148.0h1v1h-1zM265.4 147.3h1v1h-1zM263.4 167.8h1v1h-1zM265.9 141.9h1v1h-1zM264.1 143.8h1v1h-1zM265.6 156.2h1v1h-1zM263.1 139.2h1v1h-1zM276.2 140.7h1v1h-1zM269.8 170.7h1v1h-1zM260.7 162.9h1v1h-1zM265.7 139.5h1v1h-1zM266.4 131.6h1v1h-1zM268.3 140.6h1v1h-1zM261.2 172.0h1v1h-1zM267.2 160.2h1v1h-1zM259.2 169.0h1v1h-1zM267.4 155.7h1v1h-1zM268.7 174.6h1v1h-1zM270.1 187.3h1v1h-1zM265.0 132.7h1v1h-1zM268.9 148.8h1v1h-1zM262.2 178.2h1v1h-1zM265.5 148.2h1v1h-1zM261.4 185.2h1v1h-1zM267.7 160.2h1v1h-1zM265.5 174.1h1v1h-1zM262.9 175.0h1v1h-1zM262.4 181.0h1v1h-1zM268.5 137.6h1v1h-1zM265.1 168.3h1v1h-1zM266.3 148.8h1v1h-1zM269.9 156.8h1v1h-1zM247.8 159.8h1v1h-1zM262.6 180.1h1v1h-1zM265.2 149.2h1v1h-1zM262.6 138.8h1v1h-1zM266.5 149.2h1v1h-1zM248.4 153.3h1v1h-1zM273.1 151.1h1v1h-1zM266.4 168.3h1v1h-1zM268.6 172.9h1v1h-1zM273.1 149.7h1v1h-1zM267.4 155.9h1v1h-1zM268.5 133.8h1v1h-1zM264.2 141.6h1v1h-1zM267.4 142.5h1v1h-1zM264.3 145.9h1v1h-1zM263.3 157.4h1v1h-1zM269.2 155.9h1v1h-1zM267.2 169.0h1v1h-1zM274.0 178.4h1v1h-1zM255.4 173.6h1v1h-1zM269.4 174.1h1v1h-1zM266.4 175.6h1v1h-1zM274.0 168.4h1v1h-1zM266.3 163.1h1v1h-1zM266.3 144.2h1v1h-1zM267.8 137.2h1v1h-1zM264.2 139.5h1v1h-1zM265.7 168.0h1v1h-1zM250.0 168.1h1v1h-1zM263.7 158.9h1v1h-1zM266.3 138.4h1v1h-1zM250.0 137.3h1v1h-1zM268.7 131.4h1v1h-1zM265.2 137.8h1v1h-1zM265.0 139.3h1v1h-1zM266.9 148.7h1v1h-1zM269.0 168.3h1v1h-1zM263.9 172.6h1v1h-1zM267.3 166.9h1v1h-1zM258.5 152.7h1v1h-1zM265.6 169.0h1v1h-1zM263.1 159.3h1v1h-1zM269.2 156.6h1v1h-1zM262.4 140.4h1v1h-1zM260.3 139.5h1v1h-1zM267.9 144.4h1v1h-1zM269.6 162.3h1v1h-1zM267.0 159.9h1v1h-1zM267.6 185.1h1v1h-1zM268.8 176.9h1v1h-1zM265.0 142.6h1v1h-1zM269.0 154.0h1v1h-1zM267.6 143.7h1v1h-1zM263.4 186.7h1v1h-1zM264.5 176.7h1v1h-1zM264.6 160.8h1v1h-1zM267.0 141.7h1v1h-1zM264.7 183.5h1v1h-1zM264.3 171.7h1v1h-1zM268.9 151.1h1v1h-1zM266.7 139.0h1v1h-1zM267.6 142.6h1v1h-1zM268.2 179.5h1v1h-1zM269.2 135.6h1v1h-1zM264.1 161.6h1v1h-1zM277.4 159.6h1v1h-1zM266.9 172.3h1v1h-1zM270.5 171.7h1v1h-1zM269.7 155.6h1v1h-1zM282.9 184.7h1v1h-1zM263.6 156.9h1v1h-1zM266.1 152.4h1v1h-1zM278.1 183.9h1v1h-1zM262.8 173.6h1v1h-1zM263.4 174.7h1v1h-1zM260.9 177.8h1v1h-1zM267.5 151.2h1v1h-1zM266.5 145.5h1v1h-1zM273.0 161.5h1v1h-1zM269.8 168.5h1v1h-1zM271.1 174.8h1v1h-1zM265.4 157.8h1v1h-1zM268.6 160.6h1v1h-1zM267.2 165.7h1v1h-1zM272.2 138.7h1v1h-1zM267.9 180.2h1v1h-1zM267.8 173.9h1v1h-1zM266.7 160.8h1v1h-1zM248.4 185.6h1v1h-1zM268.7 169.8h1v1h-1zM270.0 143.5h1v1h-1zM275.1 165.6h1v1h-1zM268.1 171.2h1v1h-1zM249.9 155.1h1v1h-1zM264.8 183.2h1v1h-1zM275.2 151.7h1v1h-1zM265.3 159.2h1v1h-1zM267.7 139.6h1v1h-1zM269.6 173.4h1v1h-1zM271.6 167.9h1v1h-1zM267.7 186.5h1v1h-1zM263.8 182.2h1v1h-1zM269.3 143.2h1v1h-1zM265.9 161.1h1v1h-1zM260.5 130.3h1v1h-1zM253.1 174.3h1v1h-1zM265.1 144.8h1v1h-1zM276.1 163.6h1v1h-1zM269.4 187.4h1v1h-1zM273.4 179.0h1v1h-1zM270.2 165.9h1v1h-1zM264.3 146.8h1v1h-1zM265.3 176.8h1v1h-1zM264.1 132.0h1v1h-1zM265.2 147.1h1v1h-1zM265.5 133.0h1v1h-1zM266.5 146.0h1v1h-1zM260.4 158.9h1v1h-1zM279.0 157.5h1v1h-1zM269.6 177.9h1v1h-1zM262.3 175.5h1v1h-1zM262.9 146.7h1v1h-1zM265.8 180.4h1v1h-1zM265.3 156.3h1v1h-1zM265.9 177.3h1v1h-1zM267.0 143.4h1v1h-1zM262.7 155.9h1v1h-1zM269.8 185.0h1v1h-1zM264.8 155.4h1v1h-1zM275.8 187.0h1v1h-1zM266.5 168.5h1v1h-1zM272.9 136.5h1v1h-1zM269.9 162.8h1v1h-1zM267.5 169.3h1v1h-1zM270.5 162.7h1v1h-1zM266.3 183.4h1v1h-1zM270.8 148.5h1v1h-1zM264.0 173.3h1v1h-1zM267.2 158.3h1v1h-1zM268.8 186.3h1v1h-1zM264.1 148.2h1v1h-1zM255.8 143.1h1v1h-1zM264.4 154.6h1v1h-1zM267.4 144.1h1v1h-1zM262.6 143.7h1v1h-1zM267.0 164.7h1v1h-1zM262.6 186.6h1v1h-1zM266.2 173.9h1v1h-1zM262.8 164.8h1v1h-1zM270.5 174.5h1v1h-1zM262.8 171.3h1v1h-1zM278.6 150.1h1v1h-1zM268.5 143.9h1v1h-1zM265.7 141.0h1v1h-1zM277.6 151.7h1v1h-1zM265.1 154.4h1v1h-1zM253.0 160.0h1v1h-1zM267.5 139.4h1v1h-1zM257.2 135.8h1v1h-1zM271.0 161.5h1v1h-1zM265.7 157.5h1v1h-1zM270.4 146.6h1v1h-1zM273.5 167.8h1v1h-1zM253.0 153.8h1v1h-1zM280.2 187.4h1v1h-1zM265.0 101.1h1v1h-1zM262.0 77.9h1v1h-1zM264.9 83.3h1v1h-1zM258.7 77.3h1v1h-1zM273.4 84.8h1v1h-1zM265.6 88.8h1v1h-1zM263.9 99.0h1v1h-1zM267.6 79.9h1v1h-1zM265.3 88.2h1v1h-1zM276.2 96.3h1v1h-1zM250.8 69.2h1v1h-1zM264.3 101.2h1v1h-1zM269.3 94.5h1v1h-1zM266.8 94.1h1v1h-1zM265.9 91.9h1v1h-1zM266.0 84.8h1v1h-1zM266.1 84.5h1v1h-1zM278.5 81.5h1v1h-1zM258.0 81.9h1v1h-1zM261.7 80.1h1v1h-1zM265.7 91.1h1v1h-1zM270.3 90.5h1v1h-1zM273.9 89.7h1v1h-1zM263.7 97.9h1v1h-1zM268.0 86.4h1v1h-1zM268.6 84.9h1v1h-1zM263.1 77.1h1v1h-1zM268.5 86.6h1v1h-1zM268.4 88.8h1v1h-1zM269.0 81.3h1v1h-1zM264.6 71.0h1v1h-1zM264.3 79.4h1v1h-1zM266.4 79.9h1v1h-1zM261.6 86.1h1v1h-1zM266.2 88.2h1v1h-1zM265.2 98.8h1v1h-1zM266.3 76.9h1v1h-1zM262.2 76.9h1v1h-1zM264.0 95.0h1v1h-1zM265.7 99.1h1v1h-1zM266.2 91.7h1v1h-1zM261.5 99.2h1v1h-1zM265.8 92.0h1v1h-1zM265.3 90.0h1v1h-1zM265.2 83.0h1v1h-1zM268.8 89.6h1v1h-1zM268.2 70.5h1v1h-1zM269.5 81.9h1v1h-1zM269.7 109.6h1v1h-1zM270.9 92.1h1v1h-1zM266.9 75.0h1v1h-1zM267.2 89.3h1v1h-1zM264.3 87.2h1v1h-1zM270.2 70.7h1v1h-1zM258.5 79.3h1v1h-1zM267.8 80.1h1v1h-1zM264.2 85.7h1v1h-1zM265.9 93.5h1v1h-1zM265.9 92.4h1v1h-1zM266.0 94.2h1v1h-1zM262.9 86.1h1v1h-1zM272.0 94.2h1v1h-1zM265.4 83.7h1v1h-1zM262.8 91.4h1v1h-1zM263.8 93.9h1v1h-1zM265.3 77.1h1v1h-1zM264.6 92.0h1v1h-1zM265.9 82.2h1v1h-1zM271.8 86.2h1v1h-1zM263.6 76.5h1v1h-1zM267.7 79.0h1v1h-1zM263.9 106.3h1v1h-1zM264.1 72.8h1v1h-1zM267.8 95.4h1v1h-1zM264.8 88.5h1v1h-1zM265.2 88.3h1v1h-1zM269.9 92.7h1v1h-1zM270.9 82.5h1v1h-1zM266.0 75.3h1v1h-1zM258.5 100.1h1v1h-1zM267.2 79.2h1v1h-1zM266.4 94.5h1v1h-1zM269.6 78.0h1v1h-1zM264.9 95.9h1v1h-1zM267.1 80.6h1v1h-1zM265.5 107.8h1v1h-1zM266.2 83.7h1v1h-1zM265.7 88.6h1v1h-1zM272.0 85.1h1v1h-1zM269.8 81.4h1v1h-1zM270.6 84.4h1v1h-1zM270.0 89.5h1v1h-1zM259.7 91.2h1v1h-1zM266.8 94.5h1v1h-1zM266.4 96.6h1v1h-1zM256.6 78.2h1v1h-1zM267.3 80.8h1v1h-1zM270.3 87.1h1v1h-1zM259.7 79.7h1v1h-1zM263.6 79.6h1v1h-1zM272.7 77.1h1v1h-1zM266.3 84.5h1v1h-1zM269.8 92.2h1v1h-1zM266.9 86.2h1v1h-1zM271.8 75.4h1v1h-1zM266.2 84.2h1v1h-1zM264.5 85.2h1v1h-1zM266.6 91.1h1v1h-1zM267.7 89.1h1v1h-1zM267.5 75.3h1v1h-1zM268.7 74.8h1v1h-1zM265.9 84.6h1v1h-1zM264.5 94.1h1v1h-1zM266.4 75.9h1v1h-1zM263.9 88.1h1v1h-1zM267.5 83.8h1v1h-1zM258.8 95.4h1v1h-1zM266.3 72.4h1v1h-1zM267.8 72.6h1v1h-1zM267.1 85.0h1v1h-1zM269.1 81.5h1v1h-1zM265.9 91.1h1v1h-1zM264.5 75.5h1v1h-1zM267.0 98.1h1v1h-1zM262.3 76.1h1v1h-1zM265.9 79.3h1v1h-1zM263.2 83.3h1v1h-1zM266.8 77.9h1v1h-1zM266.5 86.6h1v1h-1zM268.1 91.6h1v1h-1zM266.7 86.8h1v1h-1zM269.7 83.7h1v1h-1zM263.9 89.7h1v1h-1zM264.4 105.8h1v1h-1zM263.3 90.7h1v1h-1zM269.9 99.5h1v1h-1zM265.5 78.8h1v1h-1zM266.7 81.6h1v1h-1zM266.8 94.2h1v1h-1zM273.7 86.4h1v1h-1zM266.1 81.9h1v1h-1zM270.3 89.2h1v1h-1zM264.6 91.5h1v1h-1zM269.0 94.0h1v1h-1zM269.9 97.5h1v1h-1zM257.8 83.7h1v1h-1zM267.5 84.6h1v1h-1zM267.8 81.9h1v1h-1zM264.8 108.7h1v1h-1zM266.4 74.4h1v1h-1zM267.6 85.7h1v1h-1zM262.6 71.3h1v1h-1zM265.3 100.3h1v1h-1zM264.0 84.6h1v1h-1zM266.1 97.2h1v1h-1zM265.7 84.1h1v1h-1zM265.0 92.2h1v1h-1zM270.1 93.5h1v1h-1zM268.3 96.3h1v1h-1zM270.4 83.6h1v1h-1zM269.1 95.7h1v1h-1zM272.8 78.7h1v1h-1zM266.2 83.4h1v1h-1zM267.4 80.3h1v1h-1zM265.5 88.4h1v1h-1zM266.1 89.7h1v1h-1zM268.3 103.4h1v1h-1zM265.1 87.6h1v1h-1zM264.0 86.9h1v1h-1zM260.9 101.9h1v1h-1zM269.7 86.8h1v1h-1zM265.7 96.5h1v1h-1zM269.7 83.3h1v1h-1zM269.2 78.9h1v1h-1zM264.8 99.7h1v1h-1zM266.7 68.3h1v1h-1zM264.7 86.7h1v1h-1zM266.9 94.3h1v1h-1zM263.4 88.5h1v1h-1zM268.2 92.3h1v1h-1zM266.6 91.9h1v1h-1zM270.2 104.6h1v1h-1zM261.8 64.3h1v1h-1zM265.4 85.2h1v1h-1zM267.0 89.5h1v1h-1zM268.5 100.3h1v1h-1zM265.7 89.5h1v1h-1zM265.8 85.0h1v1h-1zM279.7 90.8h1v1h-1zM268.8 103.4h1v1h-1zM265.4 80.7h1v1h-1zM265.2 84.7h1v1h-1zM268.2 77.4h1v1h-1zM264.2 83.1h1v1h-1zM268.2 89.2h1v1h-1zM264.8 90.9h1v1h-1zM261.9 95.9h1v1h-1zM264.8 89.2h1v1h-1zM275.5 80.5h1v1h-1zM264.2 87.7h1v1h-1zM260.8 77.1h1v1h-1zM270.6 86.6h1v1h-1zM265.8 86.8h1v1h-1zM267.0 95.9h1v1h-1zM263.9 97.7h1v1h-1zM270.2 92.4h1v1h-1zM277.0 99.4h1v1h-1zM267.7 90.7h1v1h-1zM268.8 85.5h1v1h-1zM268.0 88.8h1v1h-1zM267.2 73.0h1v1h-1zM264.5 85.1h1v1h-1zM264.2 106.0h1v1h-1zM267.3 97.4h1v1h-1zM263.8 79.3h1v1h-1zM264.3 83.6h1v1h-1zM267.0 92.2h1v1h-1zM266.7 100.6h1v1h-1zM267.1 92.5h1v1h-1zM266.9 100.8h1v1h-1zM269.5 84.6h1v1h-1zM268.0 84.5h1v1h-1zM267.3 86.8h1v1h-1zM266.1 94.8h1v1h-1zM264.7 95.0h1v1h-1zM266.3 89.9h1v1h-1zM268.2 79.3h1v1h-1zM267.3 77.4h1v1h-1zM268.4 99.1h1v1h-1zM268.2 84.9h1v1h-1zM267.0 69.3h1v1h-1zM269.8 82.3h1v1h-1zM265.5 87.6h1v1h-1zM257.8 97.5h1v1h-1zM266.5 97.1h1v1h-1zM269.4 90.5h1v1h-1zM256.7 79.8h1v1h-1zM269.0 82.9h1v1h-1zM270.3 105.9h1v1h-1zM267.7 87.2h1v1h-1zM270.8 79.1h1v1h-1zM265.3 95.7h1v1h-1zM267.4 92.0h1v1h-1zM268.9 84.9h1v1h-1zM266.3 93.5h1v1h-1zM264.6 93.0h1v1h-1zM281.3 92.1h1v1h-1zM266.1 78.0h1v1h-1zM262.8 91.4h1v1h-1zM267.0 93.6h1v1h-1zM264.6 93.5h1v1h-1zM256.8 95.3h1v1h-1zM264.2 84.0h1v1h-1zM266.7 85.3h1v1h-1zM269.1 89.8h1v1h-1zM263.2 98.0h1v1h-1zM270.6 106.0h1v1h-1zM271.4 82.9h1v1h-1zM266.4 98.4h1v1h-1zM263.2 95.8h1v1h-1zM267.3 83.6h1v1h-1zM259.1 80.2h1v1h-1zM269.8 78.7h1v1h-1zM267.7 87.6h1v1h-1zM266.2 73.2h1v1h-1zM270.2 87.6h1v1h-1zM261.2 82.8h1v1h-1zM266.1 91.3h1v1h-1zM267.3 98.1h1v1h-1zM266.2 84.1h1v1h-1zM267.6 78.6h1v1h-1zM268.5 93.2h1v1h-1zM271.3 97.0h1v1h-1zM264.5 92.6h1v1h-1zM265.2 81.4h1v1h-1zM276.8 82.8h1v1h-1zM268.7 101.6h1v1h-1zM267.5 81.3h1v1h-1zM265.7 79.7h1v1h-1zM271.5 88.7h1v1h-1zM270.2 88.3h1v1h-1zM269.0 83.9h1v1h-1zM269.2 96.8h1v1h-1zM266.8 70.8h1v1h-1zM266.7 86.9h1v1h-1zM273.4 94.5h1v1h-1zM265.7 77.6h1v1h-1zM257.0 85.3h1v1h-1zM281.6 78.4h1v1h-1zM264.8 82.1h1v1h-1zM264.8 80.3h1v1h-1zM270.5 81.9h1v1h-1zM264.7 73.7h1v1h-1zM259.6 72.8h1v1h-1zM270.1 86.6h1v1h-1zM268.1 92.4h1v1h-1zM266.5 82.4h1v1h-1zM268.0 83.4h1v1h-1zM266.6 88.7h1v1h-1zM266.3 80.0h1v1h-1zM264.9 88.7h1v1h-1zM264.7 90.9h1v1h-1zM266.3 96.8h1v1h-1zM261.4 78.6h1v1h-1zM264.0 93.1h1v1h-1zM264.3 84.5h1v1h-1zM267.3 87.6h1v1h-1zM265.1 74.4h1v1h-1zM264.2 101.2h1v1h-1zM254.1 93.2h1v1h-1zM266.4 88.0h1v1h-1zM269.8 83.2h1v1h-1zM263.7 76.0h1v1h-1zM264.5 84.8h1v1h-1zM265.2 76.8h1v1h-1zM266.2 85.3h1v1h-1zM264.4 84.8h1v1h-1zM266.5 104.5h1v1h-1zM266.1 90.7h1v1h-1zM258.0 76.8h1v1h-1zM266.9 90.5h1v1h-1zM268.7 89.8h1v1h-1zM271.3 92.5h1v1h-1zM269.9 106.7h1v1h-1zM267.0 91.1h1v1h-1zM265.5 80.9h1v1h-1zM263.1 95.6h1v1h-1zM264.0 92.0h1v1h-1zM269.0 102.1h1v1h-1zM268.9 96.5h1v1h-1zM277.3 107.9h1v1h-1zM267.0 95.9h1v1h-1zM271.4 90.4h1v1h-1zM264.1 99.8h1v1h-1zM270.5 95.2h1v1h-1zM267.5 90.7h1v1h-1zM270.0 89.2h1v1h-1zM271.1 100.0h1v1h-1zM264.3 94.6h1v1h-1zM259.1 74.5h1v1h-1zM266.0 92.1h1v1h-1zM271.2 98.7h1v1h-1zM270.6 94.8h1v1h-1zM270.6 81.9h1v1h-1zM264.3 78.7h1v1h-1zM270.9 79.8h1v1h-1zM275.4 77.2h1v1h-1zM264.0 96.3h1v1h-1zM268.9 76.6h1v1h-1zM267.9 110.7h1v1h-1zM265.3 88.7h1v1h-1zM267.9 81.2h1v1h-1zM266.5 88.8h1v1h-1zM268.1 115.2h1v1h-1zM269.2 93.7h1v1h-1zM267.1 72.0h1v1h-1zM265.6 86.0h1v1h-1zM262.5 87.6h1v1h-1zM266.5 97.8h1v1h-1zM265.7 80.8h1v1h-1zM268.0 83.5h1v1h-1zM262.9 85.2h1v1h-1zM265.2 98.3h1v1h-1zM267.0 88.9h1v1h-1zM261.9 94.5h1v1h-1zM268.4 84.2h1v1h-1zM264.4 102.1h1v1h-1zM270.0 87.1h1v1h-1zM268.8 65.0h1v1h-1zM257.4 70.5h1v1h-1zM265.3 98.4h1v1h-1zM266.0 84.2h1v1h-1zM261.0 69.7h1v1h-1zM263.2 85.2h1v1h-1zM267.6 95.3h1v1h-1zM270.1 90.4h1v1h-1zM266.2 90.1h1v1h-1zM264.8 69.9h1v1h-1zM266.8 81.0h1v1h-1zM256.8 93.9h1v1h-1zM267.1 82.1h1v1h-1zM257.7 91.0h1v1h-1zM281.0 85.3h1v1h-1zM270.3 79.5h1v1h-1zM264.1 96.8h1v1h-1zM266.1 94.5h1v1h-1zM264.9 83.6h1v1h-1zM265.9 85.0h1v1h-1zM262.1 80.5h1v1h-1zM265.3 83.6h1v1h-1zM268.0 91.7h1v1h-1zM263.9 85.3h1v1h-1zM262.6 83.3h1v1h-1zM268.4 83.4h1v1h-1zM269.6 88.0h1v1h-1zM267.6 77.9h1v1h-1zM267.9 98.7h1v1h-1zM259.5 96.4h1v1h-1zM268.7 84.4h1v1h-1zM267.9 78.2h1v1h-1zM269.0 80.7h1v1h-1zM263.4 86.0h1v1h-1zM266.1 81.0h1v1h-1zM269.7 78.1h1v1h-1zM262.9 93.6h1v1h-1zM261.2 91.7h1v1h-1zM264.6 93.6h1v1h-1zM271.6 80.7h1v1h-1zM269.6 90.4h1v1h-1zM267.5 90.7h1v1h-1zM252.8 88.7h1v1h-1zM271.7 85.7h1v1h-1zM262.2 77.9h1v1h-1zM267.4 73.9h1v1h-1zM265.7 68.9h1v1h-1zM269.4 97.1h1v1h-1zM265.7 98.2h1v1h-1zM261.0 88.6h1v1h-1zM263.6 83.1h1v1h-1zM264.7 99.9h1v1h-1zM271.2 83.1h1v1h-1zM255.1 89.8h1v1h-1zM266.2 93.1h1v1h-1zM269.7 85.1h1v1h-1zM264.1 77.4h1v1h-1zM269.1 98.4h1v1h-1zM250.8 80.7h1v1h-1zM264.7 93.4h1v1h-1zM264.8 85.7h1v1h-1zM268.1 87.3h1v1h-1zM265.9 84.7h1v1h-1zM265.2 78.8h1v1h-1zM260.8 84.4h1v1h-1zM266.1 96.8h1v1h-1zM267.7 84.5h1v1h-1zM270.8 87.3h1v1h-1zM266.2 91.8h1v1h-1zM271.6 106.7h1v1h-1zM268.2 83.2h1v1h-1zM267.3 74.2h1v1h-1zM265.3 83.1h1v1h-1zM267.8 80.5h1v1h-1zM267.1 80.5h1v1h-1zM268.1 95.3h1v1h-1zM278.9 94.7h1v1h-1zM266.8 95.0h1v1h-1zM270.1 77.3h1v1h-1zM266.0 81.1h1v1h-1zM279.3 93.9h1v1h-1zM268.0 78.4h1v1h-1zM267.6 88.4h1v1h-1zM267.9 87.4h1v1h-1zM267.8 77.6h1v1h-1zM271.4 92.5h1v1h-1zM267.4 88.3h1v1h-1zM278.3 80.6h1v1h-1zM266.4 83.2h1v1h-1zM268.3 86.3h1v1h-1zM265.8 68.7h1v1h-1zM268.6 90.1h1v1h-1zM270.2 72.1h1v1h-1zM269.2 82.2h1v1h-1zM264.6 85.6h1v1h-1zM270.4 90.5h1v1h-1zM274.3 91.5h1v1h-1zM266.0 78.7h1v1h-1zM264.9 84.7h1v1h-1zM267.4 105.3h1v1h-1zM267.7 91.3h1v1h-1zM267.0 85.0h1v1h-1zM270.7 89.3h1v1h-1zM263.1 105.4h1v1h-1zM264.2 69.5h1v1h-1zM267.0 88.6h1v1h-1zM264.9 86.9h1v1h-1zM270.3 83.4h1v1h-1zM260.9 83.8h1v1h-1zM276.4 77.7h1v1h-1zM267.7 84.1h1v1h-1zM266.1 87.8h1v1h-1zM266.7 95.5h1v1h-1zM276.4 91.7h1v1h-1zM264.5 98.2h1v1h-1zM266.6 82.9h1v1h-1zM270.0 74.7h1v1h-1zM259.7 85.6h1v1h-1zM270.1 81.8h1v1h-1zM265.4 88.0h1v1h-1zM269.5 89.3h1v1h-1zM261.1 97.7h1v1h-1zM266.0 87.9h1v1h-1zM265.0 88.6h1v1h-1zM264.9 97.3h1v1h-1zM271.0 78.5h1v1h-1zM263.8 103.0h1v1h-1zM271.2 73.7h1v1h-1zM265.4 82.5h1v1h-1zM266.9 77.6h1v1h-1zM265.1 86.5h1v1h-1zM265.6 85.8h1v1h-1zM273.0 85.8h1v1h-1zM272.8 90.8h1v1h-1zM268.6 81.3h1v1h-1zM267.0 90.4h1v1h-1zM267.0 66.6h1v1h-1zM272.9 92.2h1v1h-1zM264.8 89.6h1v1h-1zM265.9 86.0h1v1h-1zM270.5 86.3h1v1h-1zM271.1 75.8h1v1h-1zM265.0 88.7h1v1h-1zM264.7 92.7h1v1h-1zM260.0 109.8h1v1h-1zM266.3 95.2h1v1h-1zM263.3 81.4h1v1h-1zM265.0 76.1h1v1h-1zM268.6 92.3h1v1h-1zM275.6 80.6h1v1h-1zM264.8 87.9h1v1h-1zM266.0 95.0h1v1h-1zM264.6 84.2h1v1h-1zM263.2 73.1h1v1h-1zM266.8 98.5h1v1h-1zM269.3 78.2h1v1h-1zM262.2 100.8h1v1h-1zM259.5 80.2h1v1h-1zM267.6 98.9h1v1h-1zM265.5 97.6h1v1h-1zM264.8 91.3h1v1h-1zM264.6 85.7h1v1h-1zM271.2 96.0h1v1h-1zM269.8 99.9h1v1h-1zM273.7 98.1h1v1h-1zM269.7 82.1h1v1h-1zM266.3 72.9h1v1h-1zM271.0 92.8h1v1h-1zM268.8 83.2h1v1h-1zM266.6 82.7h1v1h-1zM265.3 78.4h1v1h-1zM266.4 96.3h1v1h-1zM267.6 103.1h1v1h-1zM268.2 100.9h1v1h-1zM270.6 91.3h1v1h-1zM271.8 84.9h1v1h-1zM266.7 91.4h1v1h-1zM265.8 89.7h1v1h-1zM270.1 90.6h1v1h-1zM264.0 91.7h1v1h-1zM260.4 103.1h1v1h-1zM265.3 75.0h1v1h-1zM268.5 87.3h1v1h-1zM264.8 92.9h1v1h-1zM268.9 97.0h1v1h-1zM269.7 102.4h1v1h-1zM263.6 90.4h1v1h-1zM263.8 86.0h1v1h-1zM267.2 86.4h1v1h-1zM264.0 102.2h1v1h-1zM269.5 81.4h1v1h-1zM264.5 90.4h1v1h-1zM265.5 88.7h1v1h-1zM266.3 84.0h1v1h-1zM262.9 87.4h1v1h-1zM266.7 99.8h1v1h-1zM262.5 87.3h1v1h-1zM263.5 76.0h1v1h-1zM263.7 92.1h1v1h-1zM266.9 69.0h1v1h-1zM269.9 85.0h1v1h-1zM264.8 82.3h1v1h-1zM265.1 77.5h1v1h-1zM271.5 76.4h1v1h-1zM262.4 94.2h1v1h-1zM263.1 96.2h1v1h-1zM267.6 83.9h1v1h-1zM261.7 91.5h1v1h-1zM267.8 91.0h1v1h-1zM269.0 86.8h1v1h-1zM268.3 95.7h1v1h-1zM277.4 66.8h1v1h-1zM265.8 93.9h1v1h-1zM268.4 80.1h1v1h-1zM267.3 103.0h1v1h-1zM270.0 92.3h1v1h-1zM270.1 92.5h1v1h-1zM266.2 88.5h1v1h-1zM259.3 87.1h1v1h-1zM264.5 83.4h1v1h-1zM268.0 68.5h1v1h-1zM274.2 88.3h1v1h-1zM264.7 78.1h1v1h-1zM266.9 86.9h1v1h-1zM270.6 84.7h1v1h-1zM272.2 81.9h1v1h-1zM265.1 98.1h1v1h-1zM266.9 83.6h1v1h-1zM265.3 83.7h1v1h-1zM258.3 84.1h1v1h-1zM268.8 85.9h1v1h-1zM264.7 87.6h1v1h-1zM263.8 78.5h1v1h-1zM271.3 98.1h1v1h-1zM264.7 93.5h1v1h-1zM264.9 81.0h1v1h-1zM267.9 76.0h1v1h-1zM275.7 70.3h1v1h-1zM265.8 86.0h1v1h-1zM258.0 90.7h1v1h-1zM268.5 87.1h1v1h-1zM269.4 87.8h1v1h-1zM261.3 89.7h1v1h-1zM266.9 85.7h1v1h-1zM265.5 82.7h1v1h-1zM265.5 94.5h1v1h-1zM264.9 105.5h1v1h-1zM265.2 92.2h1v1h-1zM266.0 82.2h1v1h-1zM268.3 86.2h1v1h-1zM270.7 90.0h1v1h-1zM276.7 77.5h1v1h-1zM269.9 70.6h1v1h-1zM267.0 93.5h1v1h-1zM267.6 83.6h1v1h-1zM268.2 91.7h1v1h-1zM270.1 86.6h1v1h-1zM265.7 84.2h1v1h-1zM265.3 78.4h1v1h-1zM262.5 73.9h1v1h-1zM262.8 84.5h1v1h-1zM266.0 98.4h1v1h-1zM266.7 83.2h1v1h-1zM264.5 94.0h1v1h-1zM258.6 78.5h1v1h-1zM268.4 78.5h1v1h-1zM264.9 95.3h1v1h-1zM267.5 89.1h1v1h-1zM258.8 105.4h1v1h-1zM269.7 92.2h1v1h-1zM267.9 68.2h1v1h-1zM269.4 103.7h1v1h-1zM268.2 78.2h1v1h-1zM260.9 92.1h1v1h-1zM264.2 92.2h1v1h-1zM266.0 101.6h1v1h-1zM261.7 88.2h1v1h-1zM265.4 75.0h1v1h-1zM264.7 78.0h1v1h-1zM263.9 84.9h1v1h-1zM268.0 84.2h1v1h-1zM266.8 106.4h1v1h-1zM266.1 82.4h1v1h-1zM269.7 79.6h1v1h-1zM267.2 78.6h1v1h-1zM263.9 74.4h1v1h-1zM262.7 75.4h1v1h-1zM266.3 90.3h1v1h-1zM270.5 80.2h1v1h-1zM265.9 78.3h1v1h-1zM261.2 81.1h1v1h-1zM265.2 108.2h1v1h-1zM265.5 102.9h1v1h-1zM257.5 88.9h1v1h-1zM268.3 75.3h1v1h-1zM268.2 95.7h1v1h-1zM272.5 87.2h1v1h-1zM271.5 84.5h1v1h-1zM260.6 91.5h1v1h-1zM262.2 75.7h1v1h-1zM265.7 95.5h1v1h-1zM264.3 97.9h1v1h-1zM267.2 81.0h1v1h-1zM266.4 102.8h1v1h-1zM262.0 88.9h1v1h-1zM263.9 95.0h1v1h-1zM265.1 104.1h1v1h-1zM265.8 88.4h1v1h-1zM254.9 82.1h1v1h-1zM263.3 89.8h1v1h-1zM259.7 75.9h1v1h-1zM268.4 86.6h1v1h-1zM268.8 91.1h1v1h-1zM265.6 92.3h1v1h-1zM269.1 103.3h1v1h-1zM270.3 92.8h1v1h-1zM268.5 84.5h1v1h-1zM269.3 91.1h1v1h-1zM267.7 97.5h1v1h-1zM265.0 79.7h1v1h-1zM261.7 82.9h1v1h-1zM265.9 82.6h1v1h-1zM268.5 81.5h1v1h-1zM253.2 84.3h1v1h-1zM288.4 87.3h1v1h-1zM277.9 101.6h1v1h-1zM269.6 84.3h1v1h-1zM267.2 80.5h1v1h-1zM264.9 92.2h1v1h-1zM264.8 81.3h1v1h-1zM265.5 83.9h1v1h-1zM279.4 77.3h1v1h-1zM281.3 106.7h1v1h-1zM263.2 55.2h1v1h-1zM275.8 117.3h1v1h-1zM291.7 74.7h1v1h-1zM269.9 74.2h1v1h-1zM296.2 86.6h1v1h-1zM292.4 47.9h1v1h-1zM243.9 101.2h1v1h-1zM297.1 100.6h1v1h-1zM297.1 53.3h1v1h-1zM252.9 62.2h1v1h-1zM262.4 61.9h1v1h-1zM286.2 100.7h1v1h-1zM268.8 55.9h1v1h-1zM255.9 52.0h1v1h-1zM256.3 84.4h1v1h-1zM273.2 70.6h1v1h-1zM283.4 83.4h1v1h-1zM251.8 49.1h1v1h-1zM294.0 111.8h1v1h-1zM257.6 90.3h1v1h-1zM277.6 95.0h1v1h-1zM250.2 78.1h1v1h-1zM285.8 70.6h1v1h-1zM224.3 141.7h1v1h-1zM210.3 146.1h1v1h-1zM222.5 147.4h1v1h-1z" fill="#111"/>
<rect x="180.3" y="38.2" width="119.5" height="150.5" fill="none" stroke="#777" stroke-width="1.6"/>
<path d="M241.6 38.2V188.7M180.3 123.4H299.8" stroke="#7a7a7a" stroke-width="1.5"/>
<path d="M180.3 188.7H299.8M180.3 38.2V188.7" stroke="#555" stroke-width="1.3"/>
<path d="M180.3 188.7v2.2M180.3 188.7h-2.2M189.3 188.7v1.4M180.3 177.4h-1.4M194.6 188.7v1.4M180.3 170.7h-1.4M198.3 188.7v1.4M180.3 166.0h-1.4M201.2 188.7v1.4M180.3 162.4h-1.4M203.5 188.7v1.4M180.3 159.4h-1.4M205.5 188.7v1.4M180.3 156.9h-1.4M207.3 188.7v1.4M180.3 154.7h-1.4M208.8 188.7v1.4M180.3 152.8h-1.4M210.2 188.7v2.2M180.3 151.1h-2.2M219.2 188.7v1.4M180.3 139.7h-1.4M224.4 188.7v1.4M180.3 133.1h-1.4M228.2 188.7v1.4M180.3 128.4h-1.4M231.1 188.7v1.4M180.3 124.8h-1.4M233.4 188.7v1.4M180.3 121.8h-1.4M235.4 188.7v1.4M180.3 119.3h-1.4M237.2 188.7v1.4M180.3 117.1h-1.4M238.7 188.7v1.4M180.3 115.2h-1.4M240.1 188.7v2.2M180.3 113.4h-2.2M249.0 188.7v1.4M180.3 102.1h-1.4M254.3 188.7v1.4M180.3 95.5h-1.4M258.0 188.7v1.4M180.3 90.8h-1.4M260.9 188.7v1.4M180.3 87.2h-1.4M263.3 188.7v1.4M180.3 84.2h-1.4M265.3 188.7v1.4M180.3 81.7h-1.4M267.0 188.7v1.4M180.3 79.5h-1.4M268.6 188.7v1.4M180.3 77.5h-1.4M269.9 188.7v2.2M180.3 75.8h-2.2M278.9 188.7v1.4M180.3 64.5h-1.4M284.2 188.7v1.4M180.3 57.9h-1.4M287.9 188.7v1.4M180.3 53.2h-1.4M290.8 188.7v1.4M180.3 49.5h-1.4M293.2 188.7v1.4M180.3 46.5h-1.4M295.2 188.7v1.4M180.3 44.0h-1.4M296.9 188.7v1.4M180.3 41.8h-1.4M298.4 188.7v1.4M180.3 39.9h-1.4" stroke="#444" stroke-width="0.9"/>
<text x="186.9" y="198.8" text-anchor="middle" font-family='"Liberation Sans", sans-serif' font-size="8.6" fill="#222">10<tspan font-size="6.2" dx="0.5" dy="-2.8">0</tspan></text>
<text x="217.3" y="198.8" text-anchor="middle" font-family='"Liberation Sans", sans-serif' font-size="8.6" fill="#222">10<tspan font-size="6.2" dx="0.5" dy="-2.8">1</tspan></text>
<text x="246.9" y="198.8" text-anchor="middle" font-family='"Liberation Sans", sans-serif' font-size="8.6" fill="#222">10<tspan font-size="6.2" dx="0.5" dy="-2.8">2</tspan></text>
<text x="276.3" y="198.8" text-anchor="middle" font-family='"Liberation Sans", sans-serif' font-size="8.6" fill="#222">10<tspan font-size="6.2" dx="0.5" dy="-2.8">3</tspan></text>
<text transform="translate(175.8 179.7) rotate(-90)" text-anchor="middle" font-family='"Liberation Sans", sans-serif' font-size="8.6" fill="#222">10<tspan font-size="6.2" dx="0.5" dy="-2.8">0</tspan></text>
<text transform="translate(175.8 144.4) rotate(-90)" text-anchor="middle" font-family='"Liberation Sans", sans-serif' font-size="8.6" fill="#222">10<tspan font-size="6.2" dx="0.5" dy="-2.8">1</tspan></text>
<text transform="translate(175.8 105.0) rotate(-90)" text-anchor="middle" font-family='"Liberation Sans", sans-serif' font-size="8.6" fill="#222">10<tspan font-size="6.2" dx="0.5" dy="-2.8">2</tspan></text>
<text transform="translate(175.8 67.0) rotate(-90)" text-anchor="middle" font-family='"Liberation Sans", sans-serif' font-size="8.6" fill="#222">10<tspan font-size="6.2" dx="0.5" dy="-2.8">3</tspan></text>
<rect x="249.4" y="43.3" width="41.8" height="75.8" fill="none" stroke="#000" stroke-width="2"/>
<text x="271.4" y="57.8" text-anchor="middle" font-family='"Liberation Serif", serif' font-weight="bold" font-size="14.5" stroke="#000" stroke-width="0.35">45%</text>
</g>
<g id="B">
<text x="328.4" y="18.7" font-family='"Liberation Sans", sans-serif' font-weight="bold" font-size="24">B</text>
<path d="M370.3 164.5H517.4" stroke="#9a9a9a" stroke-width="1"/>
<path d="M370.3 139.4H517.4" stroke="#9a9a9a" stroke-width="1"/>
<path d="M370.3 114.2H517.4" stroke="#9a9a9a" stroke-width="1"/>
<path d="M370.3 89.1H517.4" stroke="#9a9a9a" stroke-width="1"/>
<path d="M370.3 64.0H517.4" stroke="#9a9a9a" stroke-width="1"/>
<rect x="370.3" y="38.15" width="147.1" height="151.4" fill="none" stroke="#222" stroke-width="1.3"/>
<path d="M366 189.6H370.3" stroke="#777" stroke-width="1"/>
<text x="360" y="193.4" text-anchor="end" font-family='"Liberation Sans", sans-serif' font-size="10.5" fill="#111">0</text>
<path d="M366 164.5H370.3" stroke="#777" stroke-width="1"/>
<text x="360" y="168.3" text-anchor="end" font-family='"Liberation Sans", sans-serif' font-size="10.5" fill="#111">10</text>
<path d="M366 139.4H370.3" stroke="#777" stroke-width="1"/>
<text x="360" y="143.2" text-anchor="end" font-family='"Liberation Sans", sans-serif' font-size="10.5" fill="#111">20</text>
<path d="M366 114.2H370.3" stroke="#777" stroke-width="1"/>
<text x="360" y="118.0" text-anchor="end" font-family='"Liberation Sans", sans-serif' font-size="10.5" fill="#111">30</text>
<path d="M366 89.1H370.3" stroke="#777" stroke-width="1"/>
<text x="360" y="92.9" text-anchor="end" font-family='"Liberation Sans", sans-serif' font-size="10.5" fill="#111">40</text>
<path d="M366 64.0H370.3" stroke="#777" stroke-width="1"/>
<text x="360" y="67.8" text-anchor="end" font-family='"Liberation Sans", sans-serif' font-size="10.5" fill="#111">50</text>
<path d="M366 38.1H370.3" stroke="#777" stroke-width="1"/>
<text x="360" y="41.9" text-anchor="end" font-family='"Liberation Sans", sans-serif' font-size="10.5" fill="#111">60</text>
<path d="M370.4 189.6V193.6" stroke="#999" stroke-width="1"/>
<path d="M388.4 189.6V193.6" stroke="#999" stroke-width="1"/>
<path d="M424.7 189.6V193.6" stroke="#999" stroke-width="1"/>
<path d="M461.5 189.6V193.6" stroke="#999" stroke-width="1"/>
<path d="M498.2 189.6V193.6" stroke="#999" stroke-width="1"/>
<path d="M517.2 189.6V193.6" stroke="#999" stroke-width="1"/>
<text x="388.3" y="210.9" text-anchor="middle" font-family='"Liberation Sans", sans-serif' font-size="10.5" fill="#111">0</text>
<text x="425.2" y="210.9" text-anchor="middle" font-family='"Liberation Sans", sans-serif' font-size="10.5" fill="#111">20</text>
<text x="462.1" y="210.9" text-anchor="middle" font-family='"Liberation Sans", sans-serif' font-size="10.5" fill="#111">40</text>
<text x="499.0" y="210.9" text-anchor="middle" font-family='"Liberation Sans", sans-serif' font-size="10.5" fill="#111">60</text>
<text x="442.2" y="226.8" text-anchor="middle" font-family='"Liberation Sans", sans-serif' font-size="10.7" fill="#111">Time (min)</text>
<text transform="translate(337.6 119) rotate(-90)" text-anchor="middle" font-family='"Liberation Sans", sans-serif' font-size="10.9" fill="#111">% conjugates</text>
<path d="M388.3 186.3 L425.2 135.6 L462.1 75.6 L499.0 55.5" stroke="#000" stroke-width="1.2" fill="none"/>
<path d="M388.3 186.3 L425.2 177.3 L462.1 170.5 L499.0 167.7" stroke="#000" stroke-width="1.2" fill="none"/>
<rect x="385.7" y="183.7" width="5.2" height="5.2" fill="#fff" stroke="#000" stroke-width="1"/>
<rect x="422.6" y="174.7" width="5.2" height="5.2" fill="#fff" stroke="#000" stroke-width="1"/>
<rect x="459.5" y="167.9" width="5.2" height="5.2" fill="#fff" stroke="#000" stroke-width="1"/>
<rect x="496.4" y="165.1" width="5.2" height="5.2" fill="#fff" stroke="#000" stroke-width="1"/>
<rect x="385.3" y="183.3" width="6" height="6" fill="#000"/>
<rect x="422.2" y="132.6" width="6" height="6" fill="#000"/>
<rect x="459.1" y="72.6" width="6" height="6" fill="#000"/>
<rect x="496.0" y="52.5" width="6" height="6" fill="#000"/>
<rect x="375.5" y="43" width="71.2" height="36.6" fill="#fff" stroke="#555" stroke-width="1"/>
<path d="M380.5 53.6H405M380.5 69.4H405" stroke="#000" stroke-width="1.2"/>
<rect x="389.6" y="51" width="5.2" height="5.2" fill="#fff" stroke="#000" stroke-width="1"/>
<rect x="389.5" y="66.4" width="6" height="6" fill="#000"/>
<rect x="411.6" y="51.6" width="3" height="1.3" fill="#111"/>
<text x="415.4" y="57.3" font-family='"Liberation Sans", sans-serif' font-size="10" fill="#111">SEE</text>
<text x="409.2" y="73.3" font-family='"Liberation Sans", sans-serif' font-size="10.3" fill="#111">+SEE</text>
</g>
<g id="C">
<text x="-0.2" y="261.3" font-family='"Liberation Sans", sans-serif' font-weight="bold" font-size="24">C</text>
<path d="M35.8 409.2H173.7" stroke="#9a9a9a" stroke-width="1"/>
<path d="M35.8 381.9H173.7" stroke="#9a9a9a" stroke-width="1"/>
<path d="M35.8 354.5H173.7" stroke="#9a9a9a" stroke-width="1"/>
<path d="M35.8 327.1H173.7" stroke="#9a9a9a" stroke-width="1"/>
<path d="M35.8 299.8H173.7" stroke="#9a9a9a" stroke-width="1"/>
<rect x="35.8" y="272.4" width="137.9" height="164.2" fill="none" stroke="#333" stroke-width="1.2"/>
<path d="M31.5 436.6H35.8" stroke="#777" stroke-width="1"/>
<text x="28.8" y="440.2" text-anchor="end" font-family='"Liberation Sans", sans-serif' font-size="10" fill="#111">0</text>
<path d="M31.5 409.2H35.8" stroke="#777" stroke-width="1"/>
<text x="28.8" y="412.8" text-anchor="end" font-family='"Liberation Sans", sans-serif' font-size="10" fill="#111">10</text>
<path d="M31.5 381.9H35.8" stroke="#777" stroke-width="1"/>
<text x="28.8" y="385.5" text-anchor="end" font-family='"Liberation Sans", sans-serif' font-size="10" fill="#111">20</text>
<path d="M31.5 354.5H35.8" stroke="#777" stroke-width="1"/>
<text x="28.8" y="358.1" text-anchor="end" font-family='"Liberation Sans", sans-serif' font-size="10" fill="#111">30</text>
<path d="M31.5 327.1H35.8" stroke="#777" stroke-width="1"/>
<text x="28.8" y="330.7" text-anchor="end" font-family='"Liberation Sans", sans-serif' font-size="10" fill="#111">40</text>
<path d="M31.5 299.8H35.8" stroke="#777" stroke-width="1"/>
<text x="28.8" y="303.4" text-anchor="end" font-family='"Liberation Sans", sans-serif' font-size="10" fill="#111">50</text>
<path d="M31.5 272.4H35.8" stroke="#777" stroke-width="1"/>
<text x="28.8" y="276.0" text-anchor="end" font-family='"Liberation Sans", sans-serif' font-size="10" fill="#111">60</text>
<text x="52.9" y="455.3" text-anchor="middle" font-family='"Liberation Sans", sans-serif' font-size="10" fill="#111">0</text>
<text x="87.6" y="455.3" text-anchor="middle" font-family='"Liberation Sans", sans-serif' font-size="10" fill="#111">20</text>
<text x="122.3" y="455.3" text-anchor="middle" font-family='"Liberation Sans", sans-serif' font-size="10" fill="#111">40</text>
<text x="157.0" y="455.3" text-anchor="middle" font-family='"Liberation Sans", sans-serif' font-size="10" fill="#111">60</text>
<text x="106.6" y="472" text-anchor="middle" font-family='"Liberation Sans", sans-serif' font-size="11.8" fill="#111">Time (min)</text>
<text transform="translate(10.1 351.6) rotate(-90)" text-anchor="middle" font-family='"Liberation Sans", sans-serif' font-size="12" fill="#111">% specific conjugate formation</text>
<path d="M52.9 435.5 L87.6 376.4 L122.3 324.1 L157.0 296.2" stroke="#000" stroke-width="1.25" fill="none"/>
<path d="M52.9 435.5 L87.6 321.7 L122.3 301.7 L157.0 305.2" stroke="#000" stroke-width="1.25" fill="none"/>
<path d="M52.9 435.5 L87.6 403.8 L122.3 343.6 L157.0 326.3" stroke="#000" stroke-width="1.25" fill="none"/>
<path d="M52.9 435.5 L87.6 433.9 L122.3 428.4 L157.0 418.8" stroke="#000" stroke-width="1.25" fill="none"/>
<path d="M61.0 432.9L79.5 427.1M94.1 419.1L115.8 400.8M130.7 393.8L148.6 390.5" stroke="#000" stroke-width="1.25" fill="none"/>
<rect x="46.5" y="430.0" width="12.8" height="11" fill="#fff"/>
<rect x="84.4" y="373.2" width="6.4" height="6.4" fill="#000"/>
<rect x="119.1" y="320.9" width="6.4" height="6.4" fill="#000"/>
<rect x="153.8" y="293.0" width="6.4" height="6.4" fill="#000"/>
<path d="M52.9 431.9L56.2 437.8L49.6 437.8Z" fill="#000"/>
<path d="M87.6 400.2L90.9 406.1L84.3 406.1Z" fill="#000"/>
<path d="M122.3 340.0L125.6 345.9L119.0 345.9Z" fill="#000"/>
<path d="M157.0 322.7L160.3 328.6L153.7 328.6Z" fill="#000"/>
<path d="M52.9 431.8L56.9 435.5L52.9 439.2L48.9 435.5Z" fill="#000"/>
<path d="M87.6 430.2L91.6 433.9L87.6 437.6L83.6 433.9Z" fill="#000"/>
<path d="M122.3 424.7L126.3 428.4L122.3 432.1L118.3 428.4Z" fill="#000"/>
<path d="M157.0 415.1L161.0 418.8L157.0 422.5L153.0 418.8Z" fill="#000"/>
<circle cx="52.9" cy="435.5" r="3.45" fill="#000"/>
<circle cx="87.6" cy="321.7" r="3.45" fill="#000"/>
<circle cx="122.3" cy="301.7" r="3.45" fill="#000"/>
<circle cx="157.0" cy="305.2" r="3.45" fill="#000"/>
<path d="M48.4 431.0L57.4 440.0M57.4 431.0L48.4 440.0M52.9 430.0V441.0" stroke="#000" stroke-width="1.3" fill="none"/>
<path d="M83.1 420.1L92.1 429.1M92.1 420.1L83.1 429.1M87.6 419.1V430.1" stroke="#000" stroke-width="1.3" fill="none"/>
<path d="M117.8 390.8L126.8 399.8M126.8 390.8L117.8 399.8M122.3 389.8V400.8" stroke="#000" stroke-width="1.3" fill="none"/>
<path d="M152.5 384.5L161.5 393.5M161.5 384.5L152.5 393.5M157.0 383.5V394.5" stroke="#000" stroke-width="1.3" fill="none"/>
<rect x="178.8" y="272.2" width="63.7" height="164.4" fill="#fff" stroke="#333" stroke-width="1.2"/>
<path d="M181.6 298.9H205.7" stroke="#000" stroke-width="1.1"/>
<rect x="189.9" y="295.7" width="6.4" height="6.4" fill="#000"/>
<text x="208.5" y="302.4" font-family='"Liberation Sans", sans-serif' font-size="9.7" fill="#111">IgGI</text>
<path d="M181.6 327.3H205.7" stroke="#000" stroke-width="1.1"/>
<circle cx="193.1" cy="327.3" r="3.45" fill="#000"/>
<text x="208.5" y="330.8" font-family='"Liberation Sans", sans-serif' font-size="9.7" fill="#111">CD9</text>
<path d="M181.6 355.7H205.7" stroke="#000" stroke-width="1.1"/>
<path d="M193.1 352.1L196.4 358.0L189.8 358.0Z" fill="#000"/>
<text x="208.5" y="359.2" font-family='"Liberation Sans", sans-serif' font-size="9.7" fill="#111">CD38</text>
<path d="M181.6 384.1H188.8M198.2 384.1H205.3" stroke="#000" stroke-width="1.1"/>
<path d="M190.8 381.3L196.4 386.9M196.4 381.3L190.8 386.9M193.6 380.9V387.3" stroke="#000" stroke-width="1.2" fill="none"/>
<text x="208.5" y="387.6" font-family='"Liberation Sans", sans-serif' font-size="9.7" fill="#111">MHC II</text>
<path d="M181.6 412.5H205.7" stroke="#000" stroke-width="1.1"/>
<path d="M193.1 408.8L197.1 412.5L193.1 416.2L189.1 412.5Z" fill="#000"/>
<text x="208.5" y="416.0" font-family='"Liberation Sans", sans-serif' font-size="9.7" fill="#111">LFA-1</text>
</g>
<g id="D">
<text x="262.5" y="261.8" font-family='"Liberation Sans", sans-serif' font-weight="bold" font-size="24">D</text>
<path d="M301.2 405.6H518.5" stroke="#9a9a9a" stroke-width="1"/>
<path d="M301.2 372.3H518.5" stroke="#9a9a9a" stroke-width="1"/>
<path d="M301.2 339.1H518.5" stroke="#9a9a9a" stroke-width="1"/>
<path d="M301.2 305.8H518.5" stroke="#9a9a9a" stroke-width="1"/>
<path d="M301.2 272.5H518.5" stroke="#444" stroke-width="1.1" fill="none"/><path d="M518.5 272.5V438.9" stroke="#888" stroke-width="1" fill="none"/>
<path d="M301.2 272.5V438.9H518.5" stroke="#333" stroke-width="1.2" fill="none"/>
<path d="M297.6 438.9H301.2" stroke="#777" stroke-width="1"/>
<text x="293" y="443.7" text-anchor="end" font-family='"Liberation Sans", sans-serif' font-size="10.5" fill="#111">0</text>
<path d="M297.6 405.6H301.2" stroke="#777" stroke-width="1"/>
<text x="293" y="410.4" text-anchor="end" font-family='"Liberation Sans", sans-serif' font-size="10.5" fill="#111">5</text>
<path d="M297.6 372.3H301.2" stroke="#777" stroke-width="1"/>
<text x="293" y="377.1" text-anchor="end" font-family='"Liberation Sans", sans-serif' font-size="10.5" fill="#111">10</text>
<path d="M297.6 339.1H301.2" stroke="#777" stroke-width="1"/>
<text x="293" y="343.9" text-anchor="end" font-family='"Liberation Sans", sans-serif' font-size="10.5" fill="#111">15</text>
<path d="M297.6 305.8H301.2" stroke="#777" stroke-width="1"/>
<text x="293" y="310.6" text-anchor="end" font-family='"Liberation Sans", sans-serif' font-size="10.5" fill="#111">20</text>
<path d="M297.6 272.5H301.2" stroke="#777" stroke-width="1"/>
<text x="293" y="277.3" text-anchor="end" font-family='"Liberation Sans", sans-serif' font-size="10.5" fill="#111">25</text>
<path d="M301.2 438.9V442.9" stroke="#888" stroke-width="1"/>
<path d="M373.8 438.9V442.9" stroke="#888" stroke-width="1"/>
<path d="M446.5 438.9V442.9" stroke="#888" stroke-width="1"/>
<path d="M518.5 438.9V442.9" stroke="#888" stroke-width="1"/>
<text x="337.5" y="459.3" text-anchor="middle" font-family='"Liberation Sans", sans-serif' font-size="10.5" fill="#111">0</text>
<text x="411" y="459.3" text-anchor="middle" font-family='"Liberation Sans", sans-serif' font-size="10.5" fill="#111">0.2</text>
<text x="482.9" y="459.3" text-anchor="middle" font-family='"Liberation Sans", sans-serif' font-size="10.5" fill="#111">2</text>
<text x="410.6" y="472.7" text-anchor="middle" font-family='"Liberation Sans", sans-serif' font-size="10.7" fill="#111">SEE (µg/mL)</text>
<text transform="translate(274 353.7) rotate(-90)" text-anchor="middle" font-family='"Liberation Sans", sans-serif' font-size="10.7" fill="#111">% conjugate formation (t=40min)</text>
<rect x="318.0" y="432.2" width="11.6" height="6.7" fill="#000" stroke="#000" stroke-width="1.2"/>
<rect x="332.5" y="432.2" width="11.6" height="6.7" fill="#fff" stroke="#000" stroke-width="1.2"/>
<rect x="347.0" y="432.2" width="11.6" height="6.7" fill="#b4b4b4" stroke="#000" stroke-width="1.2"/>
<rect x="389.6" y="405.6" width="11.6" height="33.3" fill="#000" stroke="#000" stroke-width="1.2"/>
<rect x="404.1" y="392.3" width="11.6" height="46.6" fill="#fff" stroke="#000" stroke-width="1.2"/>
<rect x="418.6" y="372.3" width="11.6" height="66.6" fill="#b4b4b4" stroke="#000" stroke-width="1.2"/>
<rect x="462.4" y="392.3" width="11.6" height="46.6" fill="#000" stroke="#000" stroke-width="1.2"/>
<rect x="476.9" y="332.4" width="11.6" height="106.5" fill="#fff" stroke="#000" stroke-width="1.2"/>
<rect x="491.4" y="299.1" width="11.6" height="139.8" fill="#b4b4b4" stroke="#000" stroke-width="1.2"/>
<rect x="328.5" y="287.6" width="93" height="48.4" fill="#fff" stroke="#555" stroke-width="1"/>
<rect x="339" y="295.8" width="5.8" height="5.8" fill="#000" stroke="#000" stroke-width="1"/>
<text x="348.8" y="303.0" font-family='"Liberation Sans", sans-serif' font-size="10.8" fill="#111">Ig control</text>
<rect x="339" y="309.9" width="5.8" height="5.8" fill="#fff" stroke="#000" stroke-width="1"/>
<text x="348.8" y="317.1" font-family='"Liberation Sans", sans-serif' font-size="10.8" fill="#111">CD9 0.3µg/ml</text>
<rect x="339" y="324.0" width="5.8" height="5.8" fill="#b4b4b4" stroke="#000" stroke-width="1"/>
<text x="348.8" y="331.2" font-family='"Liberation Sans", sans-serif' font-size="10.8" fill="#111">CD9 1.5µg/ml</text>
</g>
</svg>
</body></html>
